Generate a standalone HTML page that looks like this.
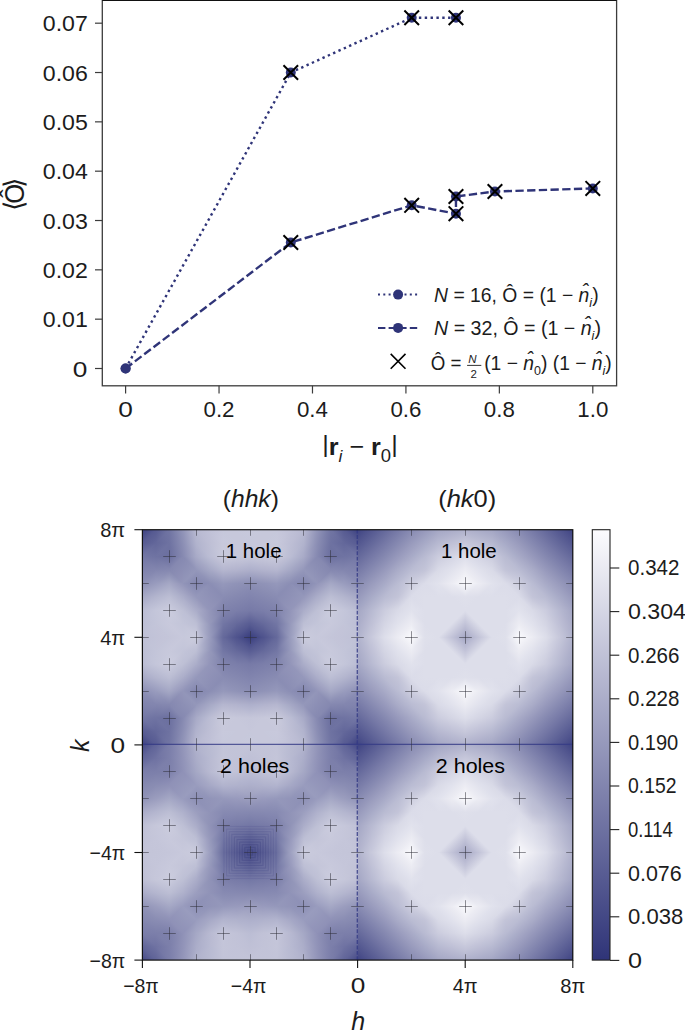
<!DOCTYPE html><html><head><meta charset="utf-8"><title>figure</title><style>html,body{margin:0;padding:0;background:#fff}svg{display:block}</style></head><body><svg width="685" height="1030" viewBox="0 0 685 1030" font-family='"Liberation Sans", sans-serif'><rect x="102.3" y="0.2" width="514.3000000000001" height="385.6" fill="none" stroke="#3c3c3c" stroke-width="1.3"/>
<line x1="102.3" y1="0.5" x2="616.6" y2="0.5" stroke="#111" stroke-width="1.2"/>
<line x1="95.0" y1="368.50" x2="102.3" y2="368.50" stroke="#3c3c3c" stroke-width="1.2"/>
<text x="87.40" y="376.60" font-size="22.3" text-anchor="end" fill="#1c1c1c" textLength="14.60" lengthAdjust="spacingAndGlyphs" >0</text>
<line x1="95.0" y1="319.17" x2="102.3" y2="319.17" stroke="#3c3c3c" stroke-width="1.2"/>
<text x="87.80" y="327.27" font-size="21.6" text-anchor="end" fill="#1c1c1c" textLength="45.00" lengthAdjust="spacingAndGlyphs" >0.01</text>
<line x1="95.0" y1="269.84" x2="102.3" y2="269.84" stroke="#3c3c3c" stroke-width="1.2"/>
<text x="87.80" y="277.94" font-size="21.6" text-anchor="end" fill="#1c1c1c" textLength="45.00" lengthAdjust="spacingAndGlyphs" >0.02</text>
<line x1="95.0" y1="220.51" x2="102.3" y2="220.51" stroke="#3c3c3c" stroke-width="1.2"/>
<text x="87.80" y="228.61" font-size="21.6" text-anchor="end" fill="#1c1c1c" textLength="45.00" lengthAdjust="spacingAndGlyphs" >0.03</text>
<line x1="95.0" y1="171.18" x2="102.3" y2="171.18" stroke="#3c3c3c" stroke-width="1.2"/>
<text x="87.80" y="179.28" font-size="21.6" text-anchor="end" fill="#1c1c1c" textLength="45.00" lengthAdjust="spacingAndGlyphs" >0.04</text>
<line x1="95.0" y1="121.85" x2="102.3" y2="121.85" stroke="#3c3c3c" stroke-width="1.2"/>
<text x="87.80" y="129.95" font-size="21.6" text-anchor="end" fill="#1c1c1c" textLength="45.00" lengthAdjust="spacingAndGlyphs" >0.05</text>
<line x1="95.0" y1="72.52" x2="102.3" y2="72.52" stroke="#3c3c3c" stroke-width="1.2"/>
<text x="87.80" y="80.62" font-size="21.6" text-anchor="end" fill="#1c1c1c" textLength="45.00" lengthAdjust="spacingAndGlyphs" >0.06</text>
<line x1="95.0" y1="23.19" x2="102.3" y2="23.19" stroke="#3c3c3c" stroke-width="1.2"/>
<text x="87.80" y="31.29" font-size="21.6" text-anchor="end" fill="#1c1c1c" textLength="45.00" lengthAdjust="spacingAndGlyphs" >0.07</text>
<line x1="125.60" y1="385.8" x2="125.60" y2="393.5" stroke="#3c3c3c" stroke-width="1.2"/>
<text x="125.60" y="417.40" font-size="22.3" text-anchor="middle" fill="#1c1c1c" textLength="14.60" lengthAdjust="spacingAndGlyphs" >0</text>
<line x1="219.04" y1="385.8" x2="219.04" y2="393.5" stroke="#3c3c3c" stroke-width="1.2"/>
<text x="219.04" y="417.40" font-size="21.6" text-anchor="middle" fill="#1c1c1c" textLength="31.00" lengthAdjust="spacingAndGlyphs" >0.2</text>
<line x1="312.48" y1="385.8" x2="312.48" y2="393.5" stroke="#3c3c3c" stroke-width="1.2"/>
<text x="312.48" y="417.40" font-size="21.6" text-anchor="middle" fill="#1c1c1c" textLength="31.00" lengthAdjust="spacingAndGlyphs" >0.4</text>
<line x1="405.92" y1="385.8" x2="405.92" y2="393.5" stroke="#3c3c3c" stroke-width="1.2"/>
<text x="405.92" y="417.40" font-size="21.6" text-anchor="middle" fill="#1c1c1c" textLength="31.00" lengthAdjust="spacingAndGlyphs" >0.6</text>
<line x1="499.36" y1="385.8" x2="499.36" y2="393.5" stroke="#3c3c3c" stroke-width="1.2"/>
<text x="499.36" y="417.40" font-size="21.6" text-anchor="middle" fill="#1c1c1c" textLength="31.00" lengthAdjust="spacingAndGlyphs" >0.8</text>
<line x1="592.80" y1="385.8" x2="592.80" y2="393.5" stroke="#3c3c3c" stroke-width="1.2"/>
<text x="592.80" y="417.40" font-size="21.6" text-anchor="middle" fill="#1c1c1c" textLength="31.00" lengthAdjust="spacingAndGlyphs" >1.0</text>
<polyline points="125.60,368.50 290.78,72.52 411.70,17.76 455.96,17.76" fill="none" stroke="#2f3478" stroke-width="2.4" stroke-dasharray="2.4 3.44"/>
<polyline points="125.60,368.50 290.78,242.51 411.70,205.32 455.96,213.70 455.96,196.49 494.95,191.50 592.80,188.45" fill="none" stroke="#2f3478" stroke-width="2.4" stroke-dasharray="8.3 3.4"/>
<circle cx="125.60" cy="368.50" r="5" fill="#2f3478"/>
<circle cx="290.78" cy="72.52" r="5" fill="#2f3478"/>
<circle cx="411.70" cy="17.76" r="5" fill="#2f3478"/>
<circle cx="455.96" cy="17.76" r="5" fill="#2f3478"/>
<circle cx="125.60" cy="368.50" r="5" fill="#2f3478"/>
<circle cx="290.78" cy="242.51" r="5" fill="#2f3478"/>
<circle cx="411.70" cy="205.32" r="5" fill="#2f3478"/>
<circle cx="455.96" cy="213.70" r="5" fill="#2f3478"/>
<circle cx="455.96" cy="196.49" r="5" fill="#2f3478"/>
<circle cx="494.95" cy="191.50" r="5" fill="#2f3478"/>
<circle cx="592.80" cy="188.45" r="5" fill="#2f3478"/>
<path d="M283.48 65.22L298.08 79.82M283.48 79.82L298.08 65.22" stroke="#000" stroke-width="2.0" fill="none"/>
<path d="M404.40 10.46L419.00 25.06M404.40 25.06L419.00 10.46" stroke="#000" stroke-width="2.0" fill="none"/>
<path d="M448.66 10.46L463.26 25.06M448.66 25.06L463.26 10.46" stroke="#000" stroke-width="2.0" fill="none"/>
<path d="M283.48 235.21L298.08 249.81M283.48 249.81L298.08 235.21" stroke="#000" stroke-width="2.0" fill="none"/>
<path d="M404.40 198.02L419.00 212.62M404.40 212.62L419.00 198.02" stroke="#000" stroke-width="2.0" fill="none"/>
<path d="M448.66 206.40L463.26 221.00M448.66 221.00L463.26 206.40" stroke="#000" stroke-width="2.0" fill="none"/>
<path d="M448.66 189.19L463.26 203.79M448.66 203.79L463.26 189.19" stroke="#000" stroke-width="2.0" fill="none"/>
<path d="M487.65 184.20L502.25 198.80M487.65 198.80L502.25 184.20" stroke="#000" stroke-width="2.0" fill="none"/>
<path d="M585.50 181.15L600.10 195.75M585.50 195.75L600.10 181.15" stroke="#000" stroke-width="2.0" fill="none"/>
<g transform="translate(24.0,193.7) rotate(-90)">
<text x="0.00" y="0.00" font-size="27.5" text-anchor="middle" fill="#1c1c1c" textLength="20.00" lengthAdjust="spacingAndGlyphs" >Ô</text>
<text x="-11.60" y="-1.20" font-size="27" text-anchor="middle" fill="#1c1c1c" >⟨</text>
<text x="11.60" y="-1.20" font-size="27" text-anchor="middle" fill="#1c1c1c" >⟩</text>
</g>
<text x="322.2" y="451.7" font-size="24.5" fill="#1c1c1c" textLength="75.5" lengthAdjust="spacingAndGlyphs">|<tspan font-weight="bold" dy="2.8">r</tspan><tspan font-style="italic" font-size="17" dy="7">i</tspan><tspan dy="-7"> − </tspan><tspan font-weight="bold">r</tspan><tspan font-size="18" dy="7.5">0</tspan><tspan dy="-10.3">|</tspan></text>
<line x1="378" y1="294.6" x2="418.4" y2="294.6" stroke="#2f3478" stroke-width="2" stroke-dasharray="2 3.3"/>
<circle cx="398.1" cy="294.6" r="5" fill="#2f3478"/>
<line x1="378" y1="327.9" x2="418.4" y2="327.9" stroke="#2f3478" stroke-width="2" stroke-dasharray="7.4 3.2"/>
<circle cx="398.1" cy="327.9" r="5" fill="#2f3478"/>
<path d="M390.70 353.90L405.50 368.70M390.70 368.70L405.50 353.90" stroke="#000" stroke-width="1.6" fill="none"/>
<text x="434.1" y="301.6" font-size="20" fill="#1c1c1c" textLength="164.5" lengthAdjust="spacingAndGlyphs"><tspan font-style="italic">N</tspan> = 16, Ô = (1 − <tspan font-style="italic">n̂</tspan><tspan font-style="italic" font-size="13" dy="5">i</tspan><tspan dy="-5">)</tspan></text>
<text x="434.1" y="334.8" font-size="20" fill="#1c1c1c" textLength="166.9" lengthAdjust="spacingAndGlyphs"><tspan font-style="italic">N</tspan> = 32, Ô = (1 − <tspan font-style="italic">n̂</tspan><tspan font-style="italic" font-size="13" dy="5">i</tspan><tspan dy="-5">)</tspan></text>
<text x="430.8" y="369.6" font-size="20" fill="#1c1c1c" textLength="30.7" lengthAdjust="spacingAndGlyphs">Ô =</text>
<text x="472.3" y="362.5" font-size="11.5" font-style="italic" text-anchor="middle" fill="#1c1c1c">N</text>
<line x1="467.1" y1="365.4" x2="481.3" y2="365.4" stroke="#1c1c1c" stroke-width="0.9"/>
<text x="473.7" y="377.7" font-size="11.5" text-anchor="middle" fill="#1c1c1c">2</text>
<text x="484.2" y="369.6" font-size="20" fill="#1c1c1c" textLength="127.6" lengthAdjust="spacingAndGlyphs">(1 − <tspan font-style="italic">n̂</tspan><tspan font-size="13" dy="5">0</tspan><tspan dy="-5">) (1 − </tspan><tspan font-style="italic">n̂</tspan><tspan font-style="italic" font-size="13" dy="5">i</tspan><tspan dy="-5">)</tspan></text>
<defs><linearGradient id="g1" gradientUnits="userSpaceOnUse" x1="0.0" y1="0.0" x2="6.3" y2="8.9"><stop offset="0" stop-color="#393e7f"/><stop offset="1" stop-color="#585c93"/></linearGradient><linearGradient id="g2" gradientUnits="userSpaceOnUse" x1="13.4" y1="0.0" x2="19.3" y2="10.0"><stop offset="0" stop-color="#4f538d"/><stop offset="1" stop-color="#65699b"/></linearGradient><linearGradient id="g3" gradientUnits="userSpaceOnUse" x1="13.4" y1="0.0" x2="20.2" y2="6.7"><stop offset="0" stop-color="#4f538d"/><stop offset="1" stop-color="#65699b"/></linearGradient><linearGradient id="g4" gradientUnits="userSpaceOnUse" x1="26.9" y1="0.0" x2="33.6" y2="6.7"><stop offset="0" stop-color="#65699b"/><stop offset="1" stop-color="#7276a4"/></linearGradient><linearGradient id="g5" gradientUnits="userSpaceOnUse" x1="26.9" y1="0.0" x2="39.6" y2="3.2"><stop offset="0" stop-color="#65699b"/><stop offset="1" stop-color="#999cbe"/></linearGradient><linearGradient id="g6" gradientUnits="userSpaceOnUse" x1="26.9" y1="13.4" x2="41.5" y2="12.1"><stop offset="0" stop-color="#7276a4"/><stop offset="1" stop-color="#999cbe"/></linearGradient><linearGradient id="g7" gradientUnits="userSpaceOnUse" x1="40.3" y1="0.0" x2="52.9" y2="-3.3"><stop offset="0" stop-color="#999cbe"/><stop offset="1" stop-color="#cacbdd"/></linearGradient><linearGradient id="g8" gradientUnits="userSpaceOnUse" x1="40.3" y1="13.4" x2="53.7" y2="12.3"><stop offset="0" stop-color="#9699bb"/><stop offset="1" stop-color="#bdbfd5"/></linearGradient><linearGradient id="g9" gradientUnits="userSpaceOnUse" x1="67.2" y1="13.4" x2="55.1" y2="-1.1"><stop offset="0" stop-color="#c3c5d9"/><stop offset="1" stop-color="#cacbdd"/></linearGradient><linearGradient id="g10" gradientUnits="userSpaceOnUse" x1="53.8" y1="13.4" x2="59.0" y2="2.5"><stop offset="0" stop-color="#bdbfd5"/><stop offset="1" stop-color="#cacbdd"/></linearGradient><linearGradient id="g11" gradientUnits="userSpaceOnUse" x1="80.7" y1="0.0" x2="74.1" y2="7.9"><stop offset="0" stop-color="#c4c5d9"/><stop offset="1" stop-color="#c8c9dc"/></linearGradient><linearGradient id="g12" gradientUnits="userSpaceOnUse" x1="67.2" y1="13.4" x2="75.0" y2="6.8"><stop offset="0" stop-color="#c3c5d9"/><stop offset="1" stop-color="#c8c9dc"/></linearGradient><linearGradient id="g13" gradientUnits="userSpaceOnUse" x1="94.1" y1="0.0" x2="85.2" y2="6.4"><stop offset="0" stop-color="#c2c3d8"/><stop offset="1" stop-color="#c4c5d9"/></linearGradient><linearGradient id="g14" gradientUnits="userSpaceOnUse" x1="94.1" y1="13.4" x2="86.4" y2="20.1"><stop offset="0" stop-color="#c3c5d9"/><stop offset="1" stop-color="#c8c9dc"/></linearGradient><linearGradient id="g15" gradientUnits="userSpaceOnUse" x1="107.6" y1="0.0" x2="91.6" y2="8.9"><stop offset="0" stop-color="#bfc0d6"/><stop offset="1" stop-color="#c3c5d9"/></linearGradient><linearGradient id="g16" gradientUnits="userSpaceOnUse" x1="107.6" y1="13.4" x2="95.3" y2="9.7"><stop offset="0" stop-color="#bdbfd5"/><stop offset="1" stop-color="#c3c5d9"/></linearGradient><linearGradient id="g17" gradientUnits="userSpaceOnUse" x1="0.0" y1="13.4" x2="4.8" y2="24.9"><stop offset="0" stop-color="#585c93"/><stop offset="1" stop-color="#777aa7"/></linearGradient><linearGradient id="g18" gradientUnits="userSpaceOnUse" x1="13.4" y1="13.4" x2="15.8" y2="26.5"><stop offset="0" stop-color="#65699b"/><stop offset="1" stop-color="#7b7eaa"/></linearGradient><linearGradient id="g19" gradientUnits="userSpaceOnUse" x1="13.4" y1="13.4" x2="19.3" y2="23.4"><stop offset="0" stop-color="#65699b"/><stop offset="1" stop-color="#7b7eaa"/></linearGradient><linearGradient id="g20" gradientUnits="userSpaceOnUse" x1="26.9" y1="13.4" x2="30.7" y2="25.7"><stop offset="0" stop-color="#7276a4"/><stop offset="1" stop-color="#7f82ac"/></linearGradient><linearGradient id="g21" gradientUnits="userSpaceOnUse" x1="26.9" y1="13.4" x2="38.8" y2="17.8"><stop offset="0" stop-color="#7276a4"/><stop offset="1" stop-color="#9699bb"/></linearGradient><linearGradient id="g22" gradientUnits="userSpaceOnUse" x1="26.9" y1="26.9" x2="42.2" y2="24.3"><stop offset="0" stop-color="#7f82ac"/><stop offset="1" stop-color="#9699bb"/></linearGradient><linearGradient id="g23" gradientUnits="userSpaceOnUse" x1="40.3" y1="13.4" x2="51.4" y2="8.3"><stop offset="0" stop-color="#9699bb"/><stop offset="1" stop-color="#bdbfd5"/></linearGradient><linearGradient id="g24" gradientUnits="userSpaceOnUse" x1="40.3" y1="26.9" x2="53.5" y2="25.1"><stop offset="0" stop-color="#9395b9"/><stop offset="1" stop-color="#abadc9"/></linearGradient><linearGradient id="g25" gradientUnits="userSpaceOnUse" x1="53.8" y1="13.4" x2="61.6" y2="6.8"><stop offset="0" stop-color="#bdbfd5"/><stop offset="1" stop-color="#c3c5d9"/></linearGradient><linearGradient id="g26" gradientUnits="userSpaceOnUse" x1="53.8" y1="26.9" x2="60.9" y2="20.2"><stop offset="0" stop-color="#abadc9"/><stop offset="1" stop-color="#bec0d5"/></linearGradient><linearGradient id="g27" gradientUnits="userSpaceOnUse" x1="67.2" y1="13.4" x2="81.6" y2="25.8"><stop offset="0" stop-color="#c3c5d9"/><stop offset="1" stop-color="#cbccde"/></linearGradient><linearGradient id="g28" gradientUnits="userSpaceOnUse" x1="67.2" y1="26.9" x2="78.9" y2="22.3"><stop offset="0" stop-color="#bec0d5"/><stop offset="1" stop-color="#cbccde"/></linearGradient><linearGradient id="g29" gradientUnits="userSpaceOnUse" x1="94.1" y1="13.4" x2="81.7" y2="17.0"><stop offset="0" stop-color="#c3c5d9"/><stop offset="1" stop-color="#c8c9dc"/></linearGradient><linearGradient id="g30" gradientUnits="userSpaceOnUse" x1="94.1" y1="26.9" x2="83.8" y2="32.6"><stop offset="0" stop-color="#c4c6da"/><stop offset="1" stop-color="#cbccde"/></linearGradient><linearGradient id="g31" gradientUnits="userSpaceOnUse" x1="107.6" y1="13.4" x2="92.1" y2="16.6"><stop offset="0" stop-color="#bdbfd5"/><stop offset="1" stop-color="#c4c6da"/></linearGradient><linearGradient id="g32" gradientUnits="userSpaceOnUse" x1="107.6" y1="26.9" x2="94.7" y2="24.3"><stop offset="0" stop-color="#bbbdd4"/><stop offset="1" stop-color="#c4c6da"/></linearGradient><linearGradient id="g33" gradientUnits="userSpaceOnUse" x1="0.0" y1="26.9" x2="4.6" y2="38.5"><stop offset="0" stop-color="#777aa7"/><stop offset="1" stop-color="#8184ae"/></linearGradient><linearGradient id="g34" gradientUnits="userSpaceOnUse" x1="13.4" y1="26.9" x2="18.1" y2="38.5"><stop offset="0" stop-color="#7b7eaa"/><stop offset="1" stop-color="#8588b0"/></linearGradient><linearGradient id="g35" gradientUnits="userSpaceOnUse" x1="13.4" y1="26.9" x2="18.1" y2="38.5"><stop offset="0" stop-color="#7b7eaa"/><stop offset="1" stop-color="#8588b0"/></linearGradient><linearGradient id="g36" gradientUnits="userSpaceOnUse" x1="26.9" y1="26.9" x2="31.5" y2="38.5"><stop offset="0" stop-color="#7f82ac"/><stop offset="1" stop-color="#898cb3"/></linearGradient><linearGradient id="g37" gradientUnits="userSpaceOnUse" x1="26.9" y1="26.9" x2="37.5" y2="32.4"><stop offset="0" stop-color="#7f82ac"/><stop offset="1" stop-color="#9395b9"/></linearGradient><linearGradient id="g38" gradientUnits="userSpaceOnUse" x1="26.9" y1="40.3" x2="42.0" y2="29.0"><stop offset="0" stop-color="#898cb3"/><stop offset="1" stop-color="#9395b9"/></linearGradient><linearGradient id="g39" gradientUnits="userSpaceOnUse" x1="40.3" y1="26.9" x2="47.9" y2="20.2"><stop offset="0" stop-color="#9395b9"/><stop offset="1" stop-color="#abadc9"/></linearGradient><linearGradient id="g40" gradientUnits="userSpaceOnUse" x1="40.3" y1="40.3" x2="50.2" y2="34.4"><stop offset="0" stop-color="#8f91b7"/><stop offset="1" stop-color="#9598bb"/></linearGradient><linearGradient id="g41" gradientUnits="userSpaceOnUse" x1="53.8" y1="26.9" x2="60.8" y2="20.2"><stop offset="0" stop-color="#abadc9"/><stop offset="1" stop-color="#bec0d5"/></linearGradient><linearGradient id="g42" gradientUnits="userSpaceOnUse" x1="53.8" y1="40.3" x2="60.7" y2="33.6"><stop offset="0" stop-color="#9598bb"/><stop offset="1" stop-color="#abadc9"/></linearGradient><linearGradient id="g43" gradientUnits="userSpaceOnUse" x1="80.7" y1="40.3" x2="87.4" y2="32.8"><stop offset="0" stop-color="#bcbed4"/><stop offset="1" stop-color="#cbccde"/></linearGradient><linearGradient id="g44" gradientUnits="userSpaceOnUse" x1="67.2" y1="40.3" x2="73.9" y2="32.9"><stop offset="0" stop-color="#abadc9"/><stop offset="1" stop-color="#bec0d5"/></linearGradient><linearGradient id="g45" gradientUnits="userSpaceOnUse" x1="80.7" y1="40.3" x2="75.7" y2="29.2"><stop offset="0" stop-color="#bcbed4"/><stop offset="1" stop-color="#cbccde"/></linearGradient><linearGradient id="g46" gradientUnits="userSpaceOnUse" x1="94.1" y1="40.3" x2="88.6" y2="29.8"><stop offset="0" stop-color="#b3b5ce"/><stop offset="1" stop-color="#c4c6da"/></linearGradient><linearGradient id="g47" gradientUnits="userSpaceOnUse" x1="94.1" y1="40.3" x2="88.6" y2="29.8"><stop offset="0" stop-color="#b3b5ce"/><stop offset="1" stop-color="#c4c6da"/></linearGradient><linearGradient id="g48" gradientUnits="userSpaceOnUse" x1="107.6" y1="40.3" x2="101.7" y2="30.4"><stop offset="0" stop-color="#a7a9c6"/><stop offset="1" stop-color="#bbbdd4"/></linearGradient><linearGradient id="g49" gradientUnits="userSpaceOnUse" x1="0.0" y1="40.3" x2="4.6" y2="51.9"><stop offset="0" stop-color="#8184ae"/><stop offset="1" stop-color="#8b8eb4"/></linearGradient><linearGradient id="g50" gradientUnits="userSpaceOnUse" x1="13.4" y1="40.3" x2="18.4" y2="51.6"><stop offset="0" stop-color="#8588b0"/><stop offset="1" stop-color="#9093b7"/></linearGradient><linearGradient id="g51" gradientUnits="userSpaceOnUse" x1="13.4" y1="40.3" x2="17.9" y2="52.1"><stop offset="0" stop-color="#8588b0"/><stop offset="1" stop-color="#9093b7"/></linearGradient><linearGradient id="g52" gradientUnits="userSpaceOnUse" x1="26.9" y1="40.3" x2="31.9" y2="51.6"><stop offset="0" stop-color="#898cb3"/><stop offset="1" stop-color="#9598bb"/></linearGradient><linearGradient id="g53" gradientUnits="userSpaceOnUse" x1="26.9" y1="40.3" x2="36.6" y2="34.3"><stop offset="0" stop-color="#898cb3"/><stop offset="1" stop-color="#8f91b7"/></linearGradient><linearGradient id="g54" gradientUnits="userSpaceOnUse" x1="26.9" y1="40.3" x2="20.3" y2="48.3"><stop offset="0" stop-color="#898cb3"/><stop offset="1" stop-color="#9598bb"/></linearGradient><linearGradient id="g55" gradientUnits="userSpaceOnUse" x1="40.3" y1="53.8" x2="56.5" y2="45.7"><stop offset="0" stop-color="#8b8eb4"/><stop offset="1" stop-color="#9598bb"/></linearGradient><linearGradient id="g56" gradientUnits="userSpaceOnUse" x1="53.8" y1="53.8" x2="48.8" y2="42.6"><stop offset="0" stop-color="#8386af"/><stop offset="1" stop-color="#9598bb"/></linearGradient><linearGradient id="g57" gradientUnits="userSpaceOnUse" x1="67.2" y1="53.8" x2="73.9" y2="46.3"><stop offset="0" stop-color="#9395b9"/><stop offset="1" stop-color="#abadc9"/></linearGradient><linearGradient id="g58" gradientUnits="userSpaceOnUse" x1="53.8" y1="53.8" x2="60.4" y2="46.0"><stop offset="0" stop-color="#8386af"/><stop offset="1" stop-color="#9598bb"/></linearGradient><linearGradient id="g59" gradientUnits="userSpaceOnUse" x1="80.7" y1="53.8" x2="87.1" y2="45.1"><stop offset="0" stop-color="#a5a8c5"/><stop offset="1" stop-color="#bcbed4"/></linearGradient><linearGradient id="g60" gradientUnits="userSpaceOnUse" x1="67.2" y1="53.8" x2="73.7" y2="45.2"><stop offset="0" stop-color="#9395b9"/><stop offset="1" stop-color="#abadc9"/></linearGradient><linearGradient id="g61" gradientUnits="userSpaceOnUse" x1="80.7" y1="53.8" x2="76.0" y2="42.3"><stop offset="0" stop-color="#a5a8c5"/><stop offset="1" stop-color="#bcbed4"/></linearGradient><linearGradient id="g62" gradientUnits="userSpaceOnUse" x1="94.1" y1="53.8" x2="89.0" y2="42.8"><stop offset="0" stop-color="#999cbe"/><stop offset="1" stop-color="#b3b5ce"/></linearGradient><linearGradient id="g63" gradientUnits="userSpaceOnUse" x1="94.1" y1="53.8" x2="88.9" y2="42.8"><stop offset="0" stop-color="#999cbe"/><stop offset="1" stop-color="#b3b5ce"/></linearGradient><linearGradient id="g64" gradientUnits="userSpaceOnUse" x1="107.6" y1="53.8" x2="102.4" y2="42.8"><stop offset="0" stop-color="#8d90b6"/><stop offset="1" stop-color="#a7a9c6"/></linearGradient><linearGradient id="g65" gradientUnits="userSpaceOnUse" x1="0.0" y1="53.8" x2="1.8" y2="67.0"><stop offset="0" stop-color="#8b8eb4"/><stop offset="1" stop-color="#adafcb"/></linearGradient><linearGradient id="g66" gradientUnits="userSpaceOnUse" x1="13.4" y1="53.8" x2="15.1" y2="67.1"><stop offset="0" stop-color="#9093b7"/><stop offset="1" stop-color="#b2b3cd"/></linearGradient><linearGradient id="g67" gradientUnits="userSpaceOnUse" x1="13.4" y1="53.8" x2="15.5" y2="66.9"><stop offset="0" stop-color="#9093b7"/><stop offset="1" stop-color="#b2b3cd"/></linearGradient><linearGradient id="g68" gradientUnits="userSpaceOnUse" x1="26.9" y1="53.8" x2="28.3" y2="67.1"><stop offset="0" stop-color="#9598bb"/><stop offset="1" stop-color="#b5b6cf"/></linearGradient><linearGradient id="g69" gradientUnits="userSpaceOnUse" x1="40.3" y1="53.8" x2="35.8" y2="65.5"><stop offset="0" stop-color="#8b8eb4"/><stop offset="1" stop-color="#a5a8c5"/></linearGradient><linearGradient id="g70" gradientUnits="userSpaceOnUse" x1="26.9" y1="53.8" x2="21.6" y2="64.7"><stop offset="0" stop-color="#9598bb"/><stop offset="1" stop-color="#b5b6cf"/></linearGradient><linearGradient id="g71" gradientUnits="userSpaceOnUse" x1="53.8" y1="53.8" x2="48.6" y2="64.7"><stop offset="0" stop-color="#8386af"/><stop offset="1" stop-color="#9497ba"/></linearGradient><linearGradient id="g72" gradientUnits="userSpaceOnUse" x1="40.3" y1="53.8" x2="34.1" y2="63.1"><stop offset="0" stop-color="#8b8eb4"/><stop offset="1" stop-color="#a5a8c5"/></linearGradient><linearGradient id="g73" gradientUnits="userSpaceOnUse" x1="53.8" y1="53.8" x2="60.5" y2="61.1"><stop offset="0" stop-color="#8386af"/><stop offset="1" stop-color="#9497ba"/></linearGradient><linearGradient id="g74" gradientUnits="userSpaceOnUse" x1="67.2" y1="67.2" x2="59.3" y2="60.6"><stop offset="0" stop-color="#8c8fb5"/><stop offset="1" stop-color="#9497ba"/></linearGradient><linearGradient id="g75" gradientUnits="userSpaceOnUse" x1="80.7" y1="67.2" x2="86.6" y2="57.2"><stop offset="0" stop-color="#8588b0"/><stop offset="1" stop-color="#a5a8c5"/></linearGradient><linearGradient id="g76" gradientUnits="userSpaceOnUse" x1="80.7" y1="67.2" x2="67.6" y2="53.5"><stop offset="0" stop-color="#8588b0"/><stop offset="1" stop-color="#9395b9"/></linearGradient><linearGradient id="g77" gradientUnits="userSpaceOnUse" x1="80.7" y1="67.2" x2="76.3" y2="55.5"><stop offset="0" stop-color="#8588b0"/><stop offset="1" stop-color="#a5a8c5"/></linearGradient><linearGradient id="g78" gradientUnits="userSpaceOnUse" x1="94.1" y1="67.2" x2="92.7" y2="54.0"><stop offset="0" stop-color="#8386af"/><stop offset="1" stop-color="#999cbe"/></linearGradient><linearGradient id="g79" gradientUnits="userSpaceOnUse" x1="94.1" y1="67.2" x2="88.6" y2="56.8"><stop offset="0" stop-color="#8386af"/><stop offset="1" stop-color="#999cbe"/></linearGradient><linearGradient id="g80" gradientUnits="userSpaceOnUse" x1="107.6" y1="67.2" x2="105.1" y2="54.3"><stop offset="0" stop-color="#8083ad"/><stop offset="1" stop-color="#8d90b6"/></linearGradient><linearGradient id="g81" gradientUnits="userSpaceOnUse" x1="0.0" y1="67.2" x2="2.3" y2="80.3"><stop offset="0" stop-color="#adafcb"/><stop offset="1" stop-color="#c5c6da"/></linearGradient><linearGradient id="g82" gradientUnits="userSpaceOnUse" x1="13.4" y1="67.2" x2="14.6" y2="80.6"><stop offset="0" stop-color="#b2b3cd"/><stop offset="1" stop-color="#c7c8db"/></linearGradient><linearGradient id="g83" gradientUnits="userSpaceOnUse" x1="13.4" y1="67.2" x2="15.4" y2="80.4"><stop offset="0" stop-color="#b2b3cd"/><stop offset="1" stop-color="#c7c8db"/></linearGradient><linearGradient id="g84" gradientUnits="userSpaceOnUse" x1="26.9" y1="67.2" x2="28.1" y2="80.6"><stop offset="0" stop-color="#b5b6cf"/><stop offset="1" stop-color="#c9cadc"/></linearGradient><linearGradient id="g85" gradientUnits="userSpaceOnUse" x1="40.3" y1="67.2" x2="34.0" y2="76.2"><stop offset="0" stop-color="#a5a8c5"/><stop offset="1" stop-color="#bbbdd4"/></linearGradient><linearGradient id="g86" gradientUnits="userSpaceOnUse" x1="26.9" y1="67.2" x2="20.7" y2="76.5"><stop offset="0" stop-color="#b5b6cf"/><stop offset="1" stop-color="#c9cadc"/></linearGradient><linearGradient id="g87" gradientUnits="userSpaceOnUse" x1="53.8" y1="67.2" x2="47.1" y2="74.9"><stop offset="0" stop-color="#9497ba"/><stop offset="1" stop-color="#a8aac7"/></linearGradient><linearGradient id="g88" gradientUnits="userSpaceOnUse" x1="40.3" y1="67.2" x2="33.7" y2="74.9"><stop offset="0" stop-color="#a5a8c5"/><stop offset="1" stop-color="#bbbdd4"/></linearGradient><linearGradient id="g89" gradientUnits="userSpaceOnUse" x1="67.2" y1="80.7" x2="51.8" y2="70.3"><stop offset="0" stop-color="#8689b1"/><stop offset="1" stop-color="#9497ba"/></linearGradient><linearGradient id="g90" gradientUnits="userSpaceOnUse" x1="67.2" y1="80.7" x2="57.3" y2="86.6"><stop offset="0" stop-color="#8689b1"/><stop offset="1" stop-color="#a8aac7"/></linearGradient><linearGradient id="g91" gradientUnits="userSpaceOnUse" x1="80.7" y1="67.2" x2="72.9" y2="60.6"><stop offset="0" stop-color="#8588b0"/><stop offset="1" stop-color="#8c8fb5"/></linearGradient><linearGradient id="g92" gradientUnits="userSpaceOnUse" x1="80.7" y1="80.7" x2="73.7" y2="74.0"><stop offset="0" stop-color="#6b6f9f"/><stop offset="1" stop-color="#8689b1"/></linearGradient><linearGradient id="g93" gradientUnits="userSpaceOnUse" x1="94.1" y1="80.7" x2="92.2" y2="65.8"><stop offset="0" stop-color="#6f73a2"/><stop offset="1" stop-color="#8588b0"/></linearGradient><linearGradient id="g94" gradientUnits="userSpaceOnUse" x1="80.7" y1="80.7" x2="82.7" y2="67.6"><stop offset="0" stop-color="#6b6f9f"/><stop offset="1" stop-color="#8588b0"/></linearGradient><linearGradient id="g95" gradientUnits="userSpaceOnUse" x1="107.6" y1="80.7" x2="104.6" y2="65.2"><stop offset="0" stop-color="#7377a5"/><stop offset="1" stop-color="#8386af"/></linearGradient><linearGradient id="g96" gradientUnits="userSpaceOnUse" x1="94.1" y1="80.7" x2="96.8" y2="67.8"><stop offset="0" stop-color="#6f73a2"/><stop offset="1" stop-color="#8386af"/></linearGradient><linearGradient id="g97" gradientUnits="userSpaceOnUse" x1="0.0" y1="80.7" x2="9.3" y2="86.9"><stop offset="0" stop-color="#c5c6da"/><stop offset="1" stop-color="#c7c8db"/></linearGradient><linearGradient id="g98" gradientUnits="userSpaceOnUse" x1="13.4" y1="80.7" x2="22.8" y2="74.5"><stop offset="0" stop-color="#c7c8db"/><stop offset="1" stop-color="#c9cadc"/></linearGradient><linearGradient id="g99" gradientUnits="userSpaceOnUse" x1="40.3" y1="80.7" x2="27.3" y2="82.9"><stop offset="0" stop-color="#bbbdd4"/><stop offset="1" stop-color="#c9cadc"/></linearGradient><linearGradient id="g100" gradientUnits="userSpaceOnUse" x1="40.3" y1="94.1" x2="25.5" y2="92.3"><stop offset="0" stop-color="#bebfd5"/><stop offset="1" stop-color="#c9cadc"/></linearGradient><linearGradient id="g101" gradientUnits="userSpaceOnUse" x1="53.8" y1="80.7" x2="42.8" y2="85.9"><stop offset="0" stop-color="#a8aac7"/><stop offset="1" stop-color="#bbbdd4"/></linearGradient><linearGradient id="g102" gradientUnits="userSpaceOnUse" x1="53.8" y1="94.1" x2="40.8" y2="96.6"><stop offset="0" stop-color="#b1b3cd"/><stop offset="1" stop-color="#bebfd5"/></linearGradient><linearGradient id="g103" gradientUnits="userSpaceOnUse" x1="67.2" y1="80.7" x2="54.1" y2="82.7"><stop offset="0" stop-color="#8689b1"/><stop offset="1" stop-color="#a8aac7"/></linearGradient><linearGradient id="g104" gradientUnits="userSpaceOnUse" x1="67.2" y1="94.1" x2="54.5" y2="97.2"><stop offset="0" stop-color="#8b8eb4"/><stop offset="1" stop-color="#b1b3cd"/></linearGradient><linearGradient id="g105" gradientUnits="userSpaceOnUse" x1="80.7" y1="80.7" x2="67.4" y2="82.2"><stop offset="0" stop-color="#6b6f9f"/><stop offset="1" stop-color="#8689b1"/></linearGradient><linearGradient id="g106" gradientUnits="userSpaceOnUse" x1="80.7" y1="94.1" x2="67.6" y2="96.4"><stop offset="0" stop-color="#6e72a1"/><stop offset="1" stop-color="#8b8eb4"/></linearGradient><linearGradient id="g107" gradientUnits="userSpaceOnUse" x1="80.7" y1="80.7" x2="89.3" y2="87.2"><stop offset="0" stop-color="#6b6f9f"/><stop offset="1" stop-color="#6f73a2"/></linearGradient><linearGradient id="g108" gradientUnits="userSpaceOnUse" x1="94.1" y1="94.1" x2="87.5" y2="86.8"><stop offset="0" stop-color="#63679a"/><stop offset="1" stop-color="#6f73a2"/></linearGradient><linearGradient id="g109" gradientUnits="userSpaceOnUse" x1="94.1" y1="94.1" x2="99.5" y2="78.0"><stop offset="0" stop-color="#63679a"/><stop offset="1" stop-color="#7377a5"/></linearGradient><linearGradient id="g110" gradientUnits="userSpaceOnUse" x1="107.6" y1="94.1" x2="102.9" y2="82.6"><stop offset="0" stop-color="#585c93"/><stop offset="1" stop-color="#7377a5"/></linearGradient><linearGradient id="g111" gradientUnits="userSpaceOnUse" x1="0.0" y1="94.1" x2="-5.4" y2="104.9"><stop offset="0" stop-color="#c6c8db"/><stop offset="1" stop-color="#c8c9dc"/></linearGradient><linearGradient id="g112" gradientUnits="userSpaceOnUse" x1="26.9" y1="107.6" x2="32.3" y2="96.8"><stop offset="0" stop-color="#c6c8db"/><stop offset="1" stop-color="#c8c9dc"/></linearGradient><linearGradient id="g113" gradientUnits="userSpaceOnUse" x1="40.3" y1="94.1" x2="27.6" y2="97.1"><stop offset="0" stop-color="#bebfd5"/><stop offset="1" stop-color="#c8c9dc"/></linearGradient><linearGradient id="g114" gradientUnits="userSpaceOnUse" x1="40.3" y1="107.6" x2="24.9" y2="104.7"><stop offset="0" stop-color="#c0c1d7"/><stop offset="1" stop-color="#c8c9dc"/></linearGradient><linearGradient id="g115" gradientUnits="userSpaceOnUse" x1="53.8" y1="94.1" x2="43.2" y2="99.6"><stop offset="0" stop-color="#b1b3cd"/><stop offset="1" stop-color="#bebfd5"/></linearGradient><linearGradient id="g116" gradientUnits="userSpaceOnUse" x1="53.8" y1="107.6" x2="41.3" y2="111.1"><stop offset="0" stop-color="#b8b9d1"/><stop offset="1" stop-color="#c0c1d7"/></linearGradient><linearGradient id="g117" gradientUnits="userSpaceOnUse" x1="67.2" y1="94.1" x2="54.1" y2="96.2"><stop offset="0" stop-color="#8b8eb4"/><stop offset="1" stop-color="#b1b3cd"/></linearGradient><linearGradient id="g118" gradientUnits="userSpaceOnUse" x1="67.2" y1="107.6" x2="54.2" y2="109.8"><stop offset="0" stop-color="#9194b8"/><stop offset="1" stop-color="#b8b9d1"/></linearGradient><linearGradient id="g119" gradientUnits="userSpaceOnUse" x1="80.7" y1="94.1" x2="67.4" y2="95.5"><stop offset="0" stop-color="#6e72a1"/><stop offset="1" stop-color="#8b8eb4"/></linearGradient><linearGradient id="g120" gradientUnits="userSpaceOnUse" x1="80.7" y1="107.6" x2="67.7" y2="110.0"><stop offset="0" stop-color="#7175a3"/><stop offset="1" stop-color="#9194b8"/></linearGradient><linearGradient id="g121" gradientUnits="userSpaceOnUse" x1="94.1" y1="94.1" x2="78.2" y2="98.5"><stop offset="0" stop-color="#63679a"/><stop offset="1" stop-color="#7175a3"/></linearGradient><linearGradient id="g122" gradientUnits="userSpaceOnUse" x1="94.1" y1="107.6" x2="83.1" y2="102.5"><stop offset="0" stop-color="#575b92"/><stop offset="1" stop-color="#7175a3"/></linearGradient><linearGradient id="g123" gradientUnits="userSpaceOnUse" x1="94.1" y1="107.6" x2="87.5" y2="100.3"><stop offset="0" stop-color="#575b92"/><stop offset="1" stop-color="#63679a"/></linearGradient><linearGradient id="g124" gradientUnits="userSpaceOnUse" x1="107.6" y1="107.6" x2="100.9" y2="100.6"><stop offset="0" stop-color="#3d4281"/><stop offset="1" stop-color="#585c93"/></linearGradient><linearGradient id="g125" gradientUnits="userSpaceOnUse" x1="0.0" y1="0.0" x2="6.6" y2="8.1"><stop offset="0" stop-color="#474b88"/><stop offset="1" stop-color="#5d6196"/></linearGradient><linearGradient id="g126" gradientUnits="userSpaceOnUse" x1="13.4" y1="0.0" x2="19.9" y2="8.7"><stop offset="0" stop-color="#595d94"/><stop offset="1" stop-color="#686c9d"/></linearGradient><linearGradient id="g127" gradientUnits="userSpaceOnUse" x1="13.4" y1="0.0" x2="21.4" y2="6.6"><stop offset="0" stop-color="#595d94"/><stop offset="1" stop-color="#6b6f9f"/></linearGradient><linearGradient id="g128" gradientUnits="userSpaceOnUse" x1="13.4" y1="13.4" x2="22.2" y2="19.8"><stop offset="0" stop-color="#686c9d"/><stop offset="1" stop-color="#7377a5"/></linearGradient><linearGradient id="g129" gradientUnits="userSpaceOnUse" x1="26.9" y1="0.0" x2="40.0" y2="2.1"><stop offset="0" stop-color="#6b6f9f"/><stop offset="1" stop-color="#9da0c0"/></linearGradient><linearGradient id="g130" gradientUnits="userSpaceOnUse" x1="26.9" y1="13.4" x2="42.3" y2="10.5"><stop offset="0" stop-color="#7377a5"/><stop offset="1" stop-color="#9da0c0"/></linearGradient><linearGradient id="g131" gradientUnits="userSpaceOnUse" x1="40.3" y1="0.0" x2="52.8" y2="-3.6"><stop offset="0" stop-color="#9da0c0"/><stop offset="1" stop-color="#cacbdd"/></linearGradient><linearGradient id="g132" gradientUnits="userSpaceOnUse" x1="40.3" y1="13.4" x2="53.4" y2="11.2"><stop offset="0" stop-color="#9799bc"/><stop offset="1" stop-color="#bdbfd5"/></linearGradient><linearGradient id="g133" gradientUnits="userSpaceOnUse" x1="67.2" y1="13.4" x2="57.6" y2="-2.3"><stop offset="0" stop-color="#c4c5d9"/><stop offset="1" stop-color="#cacbdd"/></linearGradient><linearGradient id="g134" gradientUnits="userSpaceOnUse" x1="53.8" y1="13.4" x2="59.2" y2="2.7"><stop offset="0" stop-color="#bdbfd5"/><stop offset="1" stop-color="#cacbdd"/></linearGradient><linearGradient id="g135" gradientUnits="userSpaceOnUse" x1="80.7" y1="0.0" x2="74.1" y2="8.2"><stop offset="0" stop-color="#c5c6da"/><stop offset="1" stop-color="#c8c9dc"/></linearGradient><linearGradient id="g136" gradientUnits="userSpaceOnUse" x1="67.2" y1="13.4" x2="74.9" y2="6.8"><stop offset="0" stop-color="#c4c5d9"/><stop offset="1" stop-color="#c8c9dc"/></linearGradient><linearGradient id="g137" gradientUnits="userSpaceOnUse" x1="94.1" y1="0.0" x2="85.5" y2="6.5"><stop offset="0" stop-color="#c4c5d9"/><stop offset="1" stop-color="#c5c6da"/></linearGradient><linearGradient id="g138" gradientUnits="userSpaceOnUse" x1="94.1" y1="13.4" x2="86.8" y2="20.1"><stop offset="0" stop-color="#c5c6da"/><stop offset="1" stop-color="#c8c9dc"/></linearGradient><linearGradient id="g139" gradientUnits="userSpaceOnUse" x1="107.6" y1="0.0" x2="92.5" y2="11.3"><stop offset="0" stop-color="#c3c4d8"/><stop offset="1" stop-color="#c5c6da"/></linearGradient><linearGradient id="g140" gradientUnits="userSpaceOnUse" x1="107.6" y1="13.4" x2="96.5" y2="8.3"><stop offset="0" stop-color="#c1c2d7"/><stop offset="1" stop-color="#c5c6da"/></linearGradient><linearGradient id="g141" gradientUnits="userSpaceOnUse" x1="0.0" y1="13.4" x2="5.4" y2="24.2"><stop offset="0" stop-color="#5d6196"/><stop offset="1" stop-color="#7377a5"/></linearGradient><linearGradient id="g142" gradientUnits="userSpaceOnUse" x1="13.4" y1="13.4" x2="16.8" y2="26.0"><stop offset="0" stop-color="#686c9d"/><stop offset="1" stop-color="#777aa7"/></linearGradient><linearGradient id="g143" gradientUnits="userSpaceOnUse" x1="13.4" y1="13.4" x2="19.9" y2="22.2"><stop offset="0" stop-color="#686c9d"/><stop offset="1" stop-color="#777aa7"/></linearGradient><linearGradient id="g144" gradientUnits="userSpaceOnUse" x1="26.9" y1="13.4" x2="32.3" y2="24.2"><stop offset="0" stop-color="#7377a5"/><stop offset="1" stop-color="#7b7eaa"/></linearGradient><linearGradient id="g145" gradientUnits="userSpaceOnUse" x1="26.9" y1="13.4" x2="39.7" y2="16.3"><stop offset="0" stop-color="#7377a5"/><stop offset="1" stop-color="#9799bc"/></linearGradient><linearGradient id="g146" gradientUnits="userSpaceOnUse" x1="26.9" y1="26.9" x2="43.0" y2="21.7"><stop offset="0" stop-color="#7b7eaa"/><stop offset="1" stop-color="#9799bc"/></linearGradient><linearGradient id="g147" gradientUnits="userSpaceOnUse" x1="40.3" y1="13.4" x2="51.3" y2="8.2"><stop offset="0" stop-color="#9799bc"/><stop offset="1" stop-color="#bdbfd5"/></linearGradient><linearGradient id="g148" gradientUnits="userSpaceOnUse" x1="40.3" y1="26.9" x2="53.0" y2="23.7"><stop offset="0" stop-color="#9093b7"/><stop offset="1" stop-color="#abadc9"/></linearGradient><linearGradient id="g149" gradientUnits="userSpaceOnUse" x1="53.8" y1="13.4" x2="61.6" y2="6.8"><stop offset="0" stop-color="#bdbfd5"/><stop offset="1" stop-color="#c4c5d9"/></linearGradient><linearGradient id="g150" gradientUnits="userSpaceOnUse" x1="53.8" y1="26.9" x2="60.9" y2="20.2"><stop offset="0" stop-color="#abadc9"/><stop offset="1" stop-color="#bec0d5"/></linearGradient><linearGradient id="g151" gradientUnits="userSpaceOnUse" x1="67.2" y1="13.4" x2="82.8" y2="23.8"><stop offset="0" stop-color="#c4c5d9"/><stop offset="1" stop-color="#cbccde"/></linearGradient><linearGradient id="g152" gradientUnits="userSpaceOnUse" x1="67.2" y1="26.9" x2="78.7" y2="22.1"><stop offset="0" stop-color="#bec0d5"/><stop offset="1" stop-color="#cbccde"/></linearGradient><linearGradient id="g153" gradientUnits="userSpaceOnUse" x1="94.1" y1="13.4" x2="81.6" y2="16.9"><stop offset="0" stop-color="#c5c6da"/><stop offset="1" stop-color="#c8c9dc"/></linearGradient><linearGradient id="g154" gradientUnits="userSpaceOnUse" x1="94.1" y1="26.9" x2="83.9" y2="32.6"><stop offset="0" stop-color="#c6c7da"/><stop offset="1" stop-color="#cbccde"/></linearGradient><linearGradient id="g155" gradientUnits="userSpaceOnUse" x1="107.6" y1="13.4" x2="91.9" y2="17.1"><stop offset="0" stop-color="#c1c2d7"/><stop offset="1" stop-color="#c6c7da"/></linearGradient><linearGradient id="g156" gradientUnits="userSpaceOnUse" x1="107.6" y1="26.9" x2="95.1" y2="23.5"><stop offset="0" stop-color="#bfc0d6"/><stop offset="1" stop-color="#c6c7da"/></linearGradient><linearGradient id="g157" gradientUnits="userSpaceOnUse" x1="0.0" y1="26.9" x2="2.8" y2="39.7"><stop offset="0" stop-color="#7377a5"/><stop offset="1" stop-color="#8588b0"/></linearGradient><linearGradient id="g158" gradientUnits="userSpaceOnUse" x1="13.4" y1="26.9" x2="14.3" y2="40.3"><stop offset="0" stop-color="#777aa7"/><stop offset="1" stop-color="#8689b1"/></linearGradient><linearGradient id="g159" gradientUnits="userSpaceOnUse" x1="13.4" y1="26.9" x2="16.8" y2="39.5"><stop offset="0" stop-color="#777aa7"/><stop offset="1" stop-color="#8689b1"/></linearGradient><linearGradient id="g160" gradientUnits="userSpaceOnUse" x1="26.9" y1="26.9" x2="28.0" y2="40.3"><stop offset="0" stop-color="#7b7eaa"/><stop offset="1" stop-color="#878ab2"/></linearGradient><linearGradient id="g161" gradientUnits="userSpaceOnUse" x1="26.9" y1="26.9" x2="37.0" y2="32.7"><stop offset="0" stop-color="#7b7eaa"/><stop offset="1" stop-color="#9093b7"/></linearGradient><linearGradient id="g162" gradientUnits="userSpaceOnUse" x1="26.9" y1="40.3" x2="40.3" y2="41.3"><stop offset="0" stop-color="#878ab2"/><stop offset="1" stop-color="#9193b8"/></linearGradient><linearGradient id="g163" gradientUnits="userSpaceOnUse" x1="40.3" y1="26.9" x2="50.7" y2="21.2"><stop offset="0" stop-color="#9093b7"/><stop offset="1" stop-color="#abadc9"/></linearGradient><linearGradient id="g164" gradientUnits="userSpaceOnUse" x1="40.3" y1="26.9" x2="54.5" y2="27.7"><stop offset="0" stop-color="#9093b7"/><stop offset="1" stop-color="#9c9ebf"/></linearGradient><linearGradient id="g165" gradientUnits="userSpaceOnUse" x1="53.8" y1="26.9" x2="62.1" y2="20.4"><stop offset="0" stop-color="#abadc9"/><stop offset="1" stop-color="#bec0d5"/></linearGradient><linearGradient id="g166" gradientUnits="userSpaceOnUse" x1="53.8" y1="40.3" x2="62.1" y2="33.8"><stop offset="0" stop-color="#9c9ebf"/><stop offset="1" stop-color="#afb1cc"/></linearGradient><linearGradient id="g167" gradientUnits="userSpaceOnUse" x1="80.7" y1="40.3" x2="87.4" y2="32.8"><stop offset="0" stop-color="#bcbed4"/><stop offset="1" stop-color="#cbccde"/></linearGradient><linearGradient id="g168" gradientUnits="userSpaceOnUse" x1="67.2" y1="40.3" x2="73.9" y2="32.8"><stop offset="0" stop-color="#afb1cc"/><stop offset="1" stop-color="#bec0d5"/></linearGradient><linearGradient id="g169" gradientUnits="userSpaceOnUse" x1="80.7" y1="40.3" x2="76.3" y2="28.5"><stop offset="0" stop-color="#bcbed4"/><stop offset="1" stop-color="#cbccde"/></linearGradient><linearGradient id="g170" gradientUnits="userSpaceOnUse" x1="94.1" y1="40.3" x2="89.1" y2="29.2"><stop offset="0" stop-color="#b4b6cf"/><stop offset="1" stop-color="#c6c7da"/></linearGradient><linearGradient id="g171" gradientUnits="userSpaceOnUse" x1="94.1" y1="40.3" x2="89.6" y2="28.7"><stop offset="0" stop-color="#b4b6cf"/><stop offset="1" stop-color="#c6c7da"/></linearGradient><linearGradient id="g172" gradientUnits="userSpaceOnUse" x1="107.6" y1="40.3" x2="102.4" y2="29.4"><stop offset="0" stop-color="#abadc9"/><stop offset="1" stop-color="#bfc0d6"/></linearGradient><linearGradient id="g173" gradientUnits="userSpaceOnUse" x1="0.0" y1="40.3" x2="0.8" y2="54.5"><stop offset="0" stop-color="#8588b0"/><stop offset="1" stop-color="#989abd"/></linearGradient><linearGradient id="g174" gradientUnits="userSpaceOnUse" x1="0.0" y1="40.3" x2="-1.7" y2="53.6"><stop offset="0" stop-color="#8588b0"/><stop offset="1" stop-color="#9b9dbe"/></linearGradient><linearGradient id="g175" gradientUnits="userSpaceOnUse" x1="13.4" y1="40.3" x2="14.5" y2="54.7"><stop offset="0" stop-color="#8689b1"/><stop offset="1" stop-color="#9598bb"/></linearGradient><linearGradient id="g176" gradientUnits="userSpaceOnUse" x1="13.4" y1="40.3" x2="11.5" y2="53.5"><stop offset="0" stop-color="#8689b1"/><stop offset="1" stop-color="#989abd"/></linearGradient><linearGradient id="g177" gradientUnits="userSpaceOnUse" x1="26.9" y1="40.3" x2="33.1" y2="49.7"><stop offset="0" stop-color="#878ab2"/><stop offset="1" stop-color="#9598bb"/></linearGradient><linearGradient id="g178" gradientUnits="userSpaceOnUse" x1="40.3" y1="40.3" x2="25.1" y2="42.9"><stop offset="0" stop-color="#9193b8"/><stop offset="1" stop-color="#9598bb"/></linearGradient><linearGradient id="g179" gradientUnits="userSpaceOnUse" x1="53.8" y1="53.8" x2="60.3" y2="45.4"><stop offset="0" stop-color="#8d90b6"/><stop offset="1" stop-color="#9c9ebf"/></linearGradient><linearGradient id="g180" gradientUnits="userSpaceOnUse" x1="53.8" y1="53.8" x2="40.7" y2="56.0"><stop offset="0" stop-color="#8d90b6"/><stop offset="1" stop-color="#9194b8"/></linearGradient><linearGradient id="g181" gradientUnits="userSpaceOnUse" x1="67.2" y1="53.8" x2="73.9" y2="46.2"><stop offset="0" stop-color="#999cbe"/><stop offset="1" stop-color="#afb1cc"/></linearGradient><linearGradient id="g182" gradientUnits="userSpaceOnUse" x1="53.8" y1="53.8" x2="60.4" y2="45.7"><stop offset="0" stop-color="#8d90b6"/><stop offset="1" stop-color="#9c9ebf"/></linearGradient><linearGradient id="g183" gradientUnits="userSpaceOnUse" x1="80.7" y1="53.8" x2="86.6" y2="43.8"><stop offset="0" stop-color="#a5a8c5"/><stop offset="1" stop-color="#bcbed4"/></linearGradient><linearGradient id="g184" gradientUnits="userSpaceOnUse" x1="67.2" y1="53.8" x2="73.0" y2="43.6"><stop offset="0" stop-color="#999cbe"/><stop offset="1" stop-color="#afb1cc"/></linearGradient><linearGradient id="g185" gradientUnits="userSpaceOnUse" x1="80.7" y1="53.8" x2="76.6" y2="41.8"><stop offset="0" stop-color="#a5a8c5"/><stop offset="1" stop-color="#bcbed4"/></linearGradient><linearGradient id="g186" gradientUnits="userSpaceOnUse" x1="94.1" y1="53.8" x2="89.4" y2="42.4"><stop offset="0" stop-color="#9b9dbe"/><stop offset="1" stop-color="#b4b6cf"/></linearGradient><linearGradient id="g187" gradientUnits="userSpaceOnUse" x1="94.1" y1="53.8" x2="89.8" y2="42.0"><stop offset="0" stop-color="#9b9dbe"/><stop offset="1" stop-color="#b4b6cf"/></linearGradient><linearGradient id="g188" gradientUnits="userSpaceOnUse" x1="107.6" y1="53.8" x2="103.0" y2="42.2"><stop offset="0" stop-color="#9093b7"/><stop offset="1" stop-color="#abadc9"/></linearGradient><linearGradient id="g189" gradientUnits="userSpaceOnUse" x1="13.4" y1="53.8" x2="12.0" y2="67.1"><stop offset="0" stop-color="#989abd"/><stop offset="1" stop-color="#b0b2cc"/></linearGradient><linearGradient id="g190" gradientUnits="userSpaceOnUse" x1="0.0" y1="53.8" x2="2.2" y2="68.9"><stop offset="0" stop-color="#9b9dbe"/><stop offset="1" stop-color="#b0b2cc"/></linearGradient><linearGradient id="g191" gradientUnits="userSpaceOnUse" x1="26.9" y1="53.8" x2="25.7" y2="67.1"><stop offset="0" stop-color="#9598bb"/><stop offset="1" stop-color="#b2b4ce"/></linearGradient><linearGradient id="g192" gradientUnits="userSpaceOnUse" x1="13.4" y1="53.8" x2="14.6" y2="68.2"><stop offset="0" stop-color="#989abd"/><stop offset="1" stop-color="#b2b4ce"/></linearGradient><linearGradient id="g193" gradientUnits="userSpaceOnUse" x1="40.3" y1="53.8" x2="37.8" y2="66.8"><stop offset="0" stop-color="#9194b8"/><stop offset="1" stop-color="#a6a8c6"/></linearGradient><linearGradient id="g194" gradientUnits="userSpaceOnUse" x1="26.9" y1="53.8" x2="22.1" y2="65.3"><stop offset="0" stop-color="#9598bb"/><stop offset="1" stop-color="#b2b4ce"/></linearGradient><linearGradient id="g195" gradientUnits="userSpaceOnUse" x1="53.8" y1="53.8" x2="49.8" y2="65.9"><stop offset="0" stop-color="#8d90b6"/><stop offset="1" stop-color="#999cbe"/></linearGradient><linearGradient id="g196" gradientUnits="userSpaceOnUse" x1="40.3" y1="53.8" x2="34.4" y2="63.6"><stop offset="0" stop-color="#9194b8"/><stop offset="1" stop-color="#a6a8c6"/></linearGradient><linearGradient id="g197" gradientUnits="userSpaceOnUse" x1="53.8" y1="53.8" x2="60.5" y2="60.5"><stop offset="0" stop-color="#8d90b6"/><stop offset="1" stop-color="#999cbe"/></linearGradient><linearGradient id="g198" gradientUnits="userSpaceOnUse" x1="67.2" y1="67.2" x2="60.5" y2="60.5"><stop offset="0" stop-color="#9497ba"/><stop offset="1" stop-color="#999cbe"/></linearGradient><linearGradient id="g199" gradientUnits="userSpaceOnUse" x1="80.7" y1="67.2" x2="86.3" y2="56.7"><stop offset="0" stop-color="#8f91b7"/><stop offset="1" stop-color="#a5a8c5"/></linearGradient><linearGradient id="g200" gradientUnits="userSpaceOnUse" x1="80.7" y1="67.2" x2="67.2" y2="53.8"><stop offset="0" stop-color="#8f91b7"/><stop offset="1" stop-color="#999cbe"/></linearGradient><linearGradient id="g201" gradientUnits="userSpaceOnUse" x1="80.7" y1="67.2" x2="75.5" y2="56.2"><stop offset="0" stop-color="#8f91b7"/><stop offset="1" stop-color="#a5a8c5"/></linearGradient><linearGradient id="g202" gradientUnits="userSpaceOnUse" x1="94.1" y1="67.2" x2="90.6" y2="54.8"><stop offset="0" stop-color="#8a8db3"/><stop offset="1" stop-color="#9b9dbe"/></linearGradient><linearGradient id="g203" gradientUnits="userSpaceOnUse" x1="94.1" y1="67.2" x2="88.1" y2="57.7"><stop offset="0" stop-color="#8a8db3"/><stop offset="1" stop-color="#9b9dbe"/></linearGradient><linearGradient id="g204" gradientUnits="userSpaceOnUse" x1="107.6" y1="67.2" x2="102.8" y2="55.8"><stop offset="0" stop-color="#8588b0"/><stop offset="1" stop-color="#9093b7"/></linearGradient><linearGradient id="g205" gradientUnits="userSpaceOnUse" x1="0.0" y1="67.2" x2="2.5" y2="80.2"><stop offset="0" stop-color="#adafcb"/><stop offset="1" stop-color="#bbbdd4"/></linearGradient><linearGradient id="g206" gradientUnits="userSpaceOnUse" x1="13.4" y1="67.2" x2="17.5" y2="79.4"><stop offset="0" stop-color="#b0b2cc"/><stop offset="1" stop-color="#c1c2d7"/></linearGradient><linearGradient id="g207" gradientUnits="userSpaceOnUse" x1="13.4" y1="67.2" x2="14.9" y2="80.5"><stop offset="0" stop-color="#b0b2cc"/><stop offset="1" stop-color="#c1c2d7"/></linearGradient><linearGradient id="g208" gradientUnits="userSpaceOnUse" x1="26.9" y1="67.2" x2="29.8" y2="80.0"><stop offset="0" stop-color="#b2b4ce"/><stop offset="1" stop-color="#c5c6da"/></linearGradient><linearGradient id="g209" gradientUnits="userSpaceOnUse" x1="40.3" y1="67.2" x2="34.1" y2="76.4"><stop offset="0" stop-color="#a6a8c6"/><stop offset="1" stop-color="#b8b9d1"/></linearGradient><linearGradient id="g210" gradientUnits="userSpaceOnUse" x1="26.9" y1="67.2" x2="20.6" y2="76.2"><stop offset="0" stop-color="#b2b4ce"/><stop offset="1" stop-color="#c5c6da"/></linearGradient><linearGradient id="g211" gradientUnits="userSpaceOnUse" x1="53.8" y1="67.2" x2="46.7" y2="74.0"><stop offset="0" stop-color="#999cbe"/><stop offset="1" stop-color="#a6a8c6"/></linearGradient><linearGradient id="g212" gradientUnits="userSpaceOnUse" x1="53.8" y1="80.7" x2="46.8" y2="87.4"><stop offset="0" stop-color="#a5a8c5"/><stop offset="1" stop-color="#b8b9d1"/></linearGradient><linearGradient id="g213" gradientUnits="userSpaceOnUse" x1="67.2" y1="80.7" x2="53.8" y2="67.2"><stop offset="0" stop-color="#8f91b7"/><stop offset="1" stop-color="#999cbe"/></linearGradient><linearGradient id="g214" gradientUnits="userSpaceOnUse" x1="67.2" y1="80.7" x2="56.7" y2="86.3"><stop offset="0" stop-color="#8f91b7"/><stop offset="1" stop-color="#a5a8c5"/></linearGradient><linearGradient id="g215" gradientUnits="userSpaceOnUse" x1="80.7" y1="67.2" x2="74.0" y2="60.5"><stop offset="0" stop-color="#8f91b7"/><stop offset="1" stop-color="#9497ba"/></linearGradient><linearGradient id="g216" gradientUnits="userSpaceOnUse" x1="80.7" y1="80.7" x2="74.0" y2="74.0"><stop offset="0" stop-color="#7d80ab"/><stop offset="1" stop-color="#8f91b7"/></linearGradient><linearGradient id="g217" gradientUnits="userSpaceOnUse" x1="80.7" y1="80.7" x2="77.2" y2="68.2"><stop offset="0" stop-color="#7d80ab"/><stop offset="1" stop-color="#8f91b7"/></linearGradient><linearGradient id="g218" gradientUnits="userSpaceOnUse" x1="94.1" y1="80.7" x2="93.2" y2="67.3"><stop offset="0" stop-color="#7c7faa"/><stop offset="1" stop-color="#8a8db3"/></linearGradient><linearGradient id="g219" gradientUnits="userSpaceOnUse" x1="94.1" y1="80.7" x2="90.1" y2="68.6"><stop offset="0" stop-color="#7c7faa"/><stop offset="1" stop-color="#8a8db3"/></linearGradient><linearGradient id="g220" gradientUnits="userSpaceOnUse" x1="107.6" y1="80.7" x2="106.3" y2="67.4"><stop offset="0" stop-color="#7b7eaa"/><stop offset="1" stop-color="#8588b0"/></linearGradient><linearGradient id="g221" gradientUnits="userSpaceOnUse" x1="0.0" y1="80.7" x2="9.3" y2="86.9"><stop offset="0" stop-color="#bbbdd4"/><stop offset="1" stop-color="#c1c2d7"/></linearGradient><linearGradient id="g222" gradientUnits="userSpaceOnUse" x1="0.0" y1="94.1" x2="12.1" y2="98.2"><stop offset="0" stop-color="#bfc0d6"/><stop offset="1" stop-color="#c2c3d8"/></linearGradient><linearGradient id="g223" gradientUnits="userSpaceOnUse" x1="13.4" y1="80.7" x2="25.9" y2="77.1"><stop offset="0" stop-color="#c1c2d7"/><stop offset="1" stop-color="#c5c6da"/></linearGradient><linearGradient id="g224" gradientUnits="userSpaceOnUse" x1="13.4" y1="80.7" x2="29.7" y2="87.7"><stop offset="0" stop-color="#c1c2d7"/><stop offset="1" stop-color="#c4c5d9"/></linearGradient><linearGradient id="g225" gradientUnits="userSpaceOnUse" x1="40.3" y1="80.7" x2="27.0" y2="79.5"><stop offset="0" stop-color="#b8b9d1"/><stop offset="1" stop-color="#c5c6da"/></linearGradient><linearGradient id="g226" gradientUnits="userSpaceOnUse" x1="40.3" y1="80.7" x2="25.9" y2="81.9"><stop offset="0" stop-color="#b8b9d1"/><stop offset="1" stop-color="#c4c5d9"/></linearGradient><linearGradient id="g227" gradientUnits="userSpaceOnUse" x1="53.8" y1="80.7" x2="41.4" y2="84.4"><stop offset="0" stop-color="#a5a8c5"/><stop offset="1" stop-color="#b8b9d1"/></linearGradient><linearGradient id="g228" gradientUnits="userSpaceOnUse" x1="53.8" y1="94.1" x2="40.4" y2="95.1"><stop offset="0" stop-color="#abadc9"/><stop offset="1" stop-color="#b8bad2"/></linearGradient><linearGradient id="g229" gradientUnits="userSpaceOnUse" x1="67.2" y1="80.7" x2="53.9" y2="81.9"><stop offset="0" stop-color="#8f91b7"/><stop offset="1" stop-color="#a5a8c5"/></linearGradient><linearGradient id="g230" gradientUnits="userSpaceOnUse" x1="67.2" y1="94.1" x2="54.3" y2="96.8"><stop offset="0" stop-color="#9193b8"/><stop offset="1" stop-color="#abadc9"/></linearGradient><linearGradient id="g231" gradientUnits="userSpaceOnUse" x1="80.7" y1="94.1" x2="66.5" y2="93.3"><stop offset="0" stop-color="#7c7faa"/><stop offset="1" stop-color="#8f91b7"/></linearGradient><linearGradient id="g232" gradientUnits="userSpaceOnUse" x1="80.7" y1="94.1" x2="67.4" y2="95.5"><stop offset="0" stop-color="#7c7faa"/><stop offset="1" stop-color="#9193b8"/></linearGradient><linearGradient id="g233" gradientUnits="userSpaceOnUse" x1="94.1" y1="80.7" x2="87.4" y2="74.0"><stop offset="0" stop-color="#7c7faa"/><stop offset="1" stop-color="#7d80ab"/></linearGradient><linearGradient id="g234" gradientUnits="userSpaceOnUse" x1="94.1" y1="94.1" x2="87.4" y2="87.4"><stop offset="0" stop-color="#6f72a2"/><stop offset="1" stop-color="#7c7faa"/></linearGradient><linearGradient id="g235" gradientUnits="userSpaceOnUse" x1="94.1" y1="94.1" x2="93.2" y2="80.8"><stop offset="0" stop-color="#6f72a2"/><stop offset="1" stop-color="#7c7faa"/></linearGradient><linearGradient id="g236" gradientUnits="userSpaceOnUse" x1="107.6" y1="94.1" x2="102.1" y2="83.6"><stop offset="0" stop-color="#616599"/><stop offset="1" stop-color="#7b7eaa"/></linearGradient><linearGradient id="g237" gradientUnits="userSpaceOnUse" x1="0.0" y1="94.1" x2="6.5" y2="102.8"><stop offset="0" stop-color="#bfc0d6"/><stop offset="1" stop-color="#c3c4d8"/></linearGradient><linearGradient id="g238" gradientUnits="userSpaceOnUse" x1="13.4" y1="94.1" x2="13.4" y2="107.6"><stop offset="0" stop-color="#c2c3d8"/><stop offset="1" stop-color="#c3c4d8"/></linearGradient><linearGradient id="g239" gradientUnits="userSpaceOnUse" x1="13.4" y1="94.1" x2="23.6" y2="88.4"><stop offset="0" stop-color="#c2c3d8"/><stop offset="1" stop-color="#c4c5d9"/></linearGradient><linearGradient id="g240" gradientUnits="userSpaceOnUse" x1="13.4" y1="94.1" x2="13.4" y2="107.6"><stop offset="0" stop-color="#c2c3d8"/><stop offset="1" stop-color="#c3c4d8"/></linearGradient><linearGradient id="g241" gradientUnits="userSpaceOnUse" x1="40.3" y1="94.1" x2="27.1" y2="92.7"><stop offset="0" stop-color="#b8bad2"/><stop offset="1" stop-color="#c4c5d9"/></linearGradient><linearGradient id="g242" gradientUnits="userSpaceOnUse" x1="40.3" y1="94.1" x2="25.7" y2="95.6"><stop offset="0" stop-color="#b8bad2"/><stop offset="1" stop-color="#c3c4d8"/></linearGradient><linearGradient id="g243" gradientUnits="userSpaceOnUse" x1="53.8" y1="94.1" x2="42.1" y2="98.7"><stop offset="0" stop-color="#abadc9"/><stop offset="1" stop-color="#b8bad2"/></linearGradient><linearGradient id="g244" gradientUnits="userSpaceOnUse" x1="53.8" y1="107.6" x2="40.5" y2="108.9"><stop offset="0" stop-color="#b0b2cc"/><stop offset="1" stop-color="#b9bbd2"/></linearGradient><linearGradient id="g245" gradientUnits="userSpaceOnUse" x1="67.2" y1="94.1" x2="53.9" y2="95.2"><stop offset="0" stop-color="#9193b8"/><stop offset="1" stop-color="#abadc9"/></linearGradient><linearGradient id="g246" gradientUnits="userSpaceOnUse" x1="67.2" y1="107.6" x2="54.2" y2="110.0"><stop offset="0" stop-color="#9395b9"/><stop offset="1" stop-color="#b0b2cc"/></linearGradient><linearGradient id="g247" gradientUnits="userSpaceOnUse" x1="80.7" y1="107.6" x2="66.6" y2="106.9"><stop offset="0" stop-color="#7b7eaa"/><stop offset="1" stop-color="#9193b8"/></linearGradient><linearGradient id="g248" gradientUnits="userSpaceOnUse" x1="80.7" y1="107.6" x2="67.3" y2="108.7"><stop offset="0" stop-color="#7b7eaa"/><stop offset="1" stop-color="#9395b9"/></linearGradient><linearGradient id="g249" gradientUnits="userSpaceOnUse" x1="94.1" y1="94.1" x2="80.8" y2="93.2"><stop offset="0" stop-color="#6f72a2"/><stop offset="1" stop-color="#7c7faa"/></linearGradient><linearGradient id="g250" gradientUnits="userSpaceOnUse" x1="94.1" y1="107.6" x2="83.6" y2="102.1"><stop offset="0" stop-color="#616599"/><stop offset="1" stop-color="#7b7eaa"/></linearGradient><linearGradient id="g251" gradientUnits="userSpaceOnUse" x1="107.6" y1="94.1" x2="100.9" y2="87.4"><stop offset="0" stop-color="#616599"/><stop offset="1" stop-color="#6f72a2"/></linearGradient><linearGradient id="g252" gradientUnits="userSpaceOnUse" x1="107.6" y1="107.6" x2="100.9" y2="100.9"><stop offset="0" stop-color="#474b88"/><stop offset="1" stop-color="#616599"/></linearGradient><linearGradient id="g253" gradientUnits="userSpaceOnUse" x1="0.0" y1="0.0" x2="6.7" y2="6.7"><stop offset="0" stop-color="#a6a8c6"/><stop offset="1" stop-color="#c2c3d8"/></linearGradient><linearGradient id="g254" gradientUnits="userSpaceOnUse" x1="13.4" y1="0.0" x2="20.2" y2="6.7"><stop offset="0" stop-color="#c2c3d8"/><stop offset="1" stop-color="#dddeea"/></linearGradient><linearGradient id="g255" gradientUnits="userSpaceOnUse" x1="13.4" y1="0.0" x2="20.2" y2="6.7"><stop offset="0" stop-color="#c2c3d8"/><stop offset="1" stop-color="#dddeea"/></linearGradient><linearGradient id="g256" gradientUnits="userSpaceOnUse" x1="26.9" y1="0.0" x2="33.6" y2="-6.7"><stop offset="0" stop-color="#dddeea"/><stop offset="1" stop-color="#dfe0eb"/></linearGradient><linearGradient id="g257" gradientUnits="userSpaceOnUse" x1="40.3" y1="0.0" x2="50.8" y2="-5.6"><stop offset="0" stop-color="#dfe0eb"/><stop offset="1" stop-color="#fafafd"/></linearGradient><linearGradient id="g258" gradientUnits="userSpaceOnUse" x1="40.3" y1="13.4" x2="53.5" y2="11.6"><stop offset="0" stop-color="#dddeea"/><stop offset="1" stop-color="#ececf3"/></linearGradient><linearGradient id="g259" gradientUnits="userSpaceOnUse" x1="67.2" y1="0.0" x2="60.5" y2="-6.7"><stop offset="0" stop-color="#ececf3"/><stop offset="1" stop-color="#fafafd"/></linearGradient><linearGradient id="g260" gradientUnits="userSpaceOnUse" x1="67.2" y1="13.4" x2="60.5" y2="6.7"><stop offset="0" stop-color="#e1e2ed"/><stop offset="1" stop-color="#ececf3"/></linearGradient><linearGradient id="g261" gradientUnits="userSpaceOnUse" x1="80.7" y1="0.0" x2="71.8" y2="-6.4"><stop offset="0" stop-color="#dddeea"/><stop offset="1" stop-color="#ececf3"/></linearGradient><linearGradient id="g262" gradientUnits="userSpaceOnUse" x1="80.7" y1="13.4" x2="71.6" y2="7.2"><stop offset="0" stop-color="#d4d5e4"/><stop offset="1" stop-color="#e1e2ed"/></linearGradient><linearGradient id="g263" gradientUnits="userSpaceOnUse" x1="94.1" y1="0.0" x2="82.6" y2="-4.7"><stop offset="0" stop-color="#c7c8db"/><stop offset="1" stop-color="#dddeea"/></linearGradient><linearGradient id="g264" gradientUnits="userSpaceOnUse" x1="94.1" y1="13.4" x2="82.3" y2="9.1"><stop offset="0" stop-color="#bfc0d6"/><stop offset="1" stop-color="#d4d5e4"/></linearGradient><linearGradient id="g265" gradientUnits="userSpaceOnUse" x1="107.6" y1="0.0" x2="95.6" y2="-4.1"><stop offset="0" stop-color="#b0b2cc"/><stop offset="1" stop-color="#c7c8db"/></linearGradient><linearGradient id="g266" gradientUnits="userSpaceOnUse" x1="107.6" y1="13.4" x2="95.2" y2="9.8"><stop offset="0" stop-color="#aaacc8"/><stop offset="1" stop-color="#bfc0d6"/></linearGradient><linearGradient id="g267" gradientUnits="userSpaceOnUse" x1="0.0" y1="13.4" x2="6.7" y2="20.2"><stop offset="0" stop-color="#c2c3d8"/><stop offset="1" stop-color="#dddeea"/></linearGradient><linearGradient id="g268" gradientUnits="userSpaceOnUse" x1="40.3" y1="13.4" x2="49.3" y2="7.1"><stop offset="0" stop-color="#dddeea"/><stop offset="1" stop-color="#ececf3"/></linearGradient><linearGradient id="g269" gradientUnits="userSpaceOnUse" x1="40.3" y1="13.4" x2="53.8" y2="13.4"><stop offset="0" stop-color="#dddeea"/><stop offset="1" stop-color="#e1e2ed"/></linearGradient><linearGradient id="g270" gradientUnits="userSpaceOnUse" x1="67.2" y1="13.4" x2="60.5" y2="6.7"><stop offset="0" stop-color="#e1e2ed"/><stop offset="1" stop-color="#ececf3"/></linearGradient><linearGradient id="g271" gradientUnits="userSpaceOnUse" x1="67.2" y1="26.9" x2="60.5" y2="20.2"><stop offset="0" stop-color="#d9dae7"/><stop offset="1" stop-color="#e1e2ed"/></linearGradient><linearGradient id="g272" gradientUnits="userSpaceOnUse" x1="80.7" y1="13.4" x2="70.9" y2="7.4"><stop offset="0" stop-color="#d4d5e4"/><stop offset="1" stop-color="#e1e2ed"/></linearGradient><linearGradient id="g273" gradientUnits="userSpaceOnUse" x1="80.7" y1="26.9" x2="71.2" y2="20.8"><stop offset="0" stop-color="#cbccde"/><stop offset="1" stop-color="#d9dae7"/></linearGradient><linearGradient id="g274" gradientUnits="userSpaceOnUse" x1="94.1" y1="13.4" x2="82.9" y2="8.5"><stop offset="0" stop-color="#bfc0d6"/><stop offset="1" stop-color="#d4d5e4"/></linearGradient><linearGradient id="g275" gradientUnits="userSpaceOnUse" x1="94.1" y1="26.9" x2="82.5" y2="22.3"><stop offset="0" stop-color="#b7b9d1"/><stop offset="1" stop-color="#cbccde"/></linearGradient><linearGradient id="g276" gradientUnits="userSpaceOnUse" x1="107.6" y1="13.4" x2="95.7" y2="9.1"><stop offset="0" stop-color="#aaacc8"/><stop offset="1" stop-color="#bfc0d6"/></linearGradient><linearGradient id="g277" gradientUnits="userSpaceOnUse" x1="107.6" y1="26.9" x2="95.4" y2="23.0"><stop offset="0" stop-color="#a4a6c4"/><stop offset="1" stop-color="#b7b9d1"/></linearGradient><linearGradient id="g278" gradientUnits="userSpaceOnUse" x1="0.0" y1="26.9" x2="-6.7" y2="33.6"><stop offset="0" stop-color="#dddeea"/><stop offset="1" stop-color="#dfe0eb"/></linearGradient><linearGradient id="g279" gradientUnits="userSpaceOnUse" x1="53.8" y1="40.3" x2="60.0" y2="31.0"><stop offset="0" stop-color="#dbdce9"/><stop offset="1" stop-color="#e1e2ed"/></linearGradient><linearGradient id="g280" gradientUnits="userSpaceOnUse" x1="53.8" y1="40.3" x2="40.3" y2="40.3"><stop offset="0" stop-color="#dbdce9"/><stop offset="1" stop-color="#dddeea"/></linearGradient><linearGradient id="g281" gradientUnits="userSpaceOnUse" x1="67.2" y1="26.9" x2="58.6" y2="20.4"><stop offset="0" stop-color="#d9dae7"/><stop offset="1" stop-color="#e1e2ed"/></linearGradient><linearGradient id="g282" gradientUnits="userSpaceOnUse" x1="67.2" y1="40.3" x2="59.9" y2="33.7"><stop offset="0" stop-color="#c3c4d8"/><stop offset="1" stop-color="#dbdce9"/></linearGradient><linearGradient id="g283" gradientUnits="userSpaceOnUse" x1="67.2" y1="40.3" x2="61.2" y2="30.8"><stop offset="0" stop-color="#c3c4d8"/><stop offset="1" stop-color="#d9dae7"/></linearGradient><linearGradient id="g284" gradientUnits="userSpaceOnUse" x1="80.7" y1="40.3" x2="75.1" y2="29.8"><stop offset="0" stop-color="#b9bbd2"/><stop offset="1" stop-color="#cbccde"/></linearGradient><linearGradient id="g285" gradientUnits="userSpaceOnUse" x1="94.1" y1="26.9" x2="86.7" y2="20.2"><stop offset="0" stop-color="#b7b9d1"/><stop offset="1" stop-color="#cbccde"/></linearGradient><linearGradient id="g286" gradientUnits="userSpaceOnUse" x1="94.1" y1="40.3" x2="86.6" y2="33.7"><stop offset="0" stop-color="#a7aac7"/><stop offset="1" stop-color="#b9bbd2"/></linearGradient><linearGradient id="g287" gradientUnits="userSpaceOnUse" x1="107.6" y1="26.9" x2="99.5" y2="20.3"><stop offset="0" stop-color="#a4a6c4"/><stop offset="1" stop-color="#b7b9d1"/></linearGradient><linearGradient id="g288" gradientUnits="userSpaceOnUse" x1="107.6" y1="40.3" x2="99.4" y2="33.8"><stop offset="0" stop-color="#9698bb"/><stop offset="1" stop-color="#a7aac7"/></linearGradient><linearGradient id="g289" gradientUnits="userSpaceOnUse" x1="13.4" y1="40.3" x2="11.6" y2="53.5"><stop offset="0" stop-color="#dddeea"/><stop offset="1" stop-color="#ececf3"/></linearGradient><linearGradient id="g290" gradientUnits="userSpaceOnUse" x1="0.0" y1="40.3" x2="-5.6" y2="50.8"><stop offset="0" stop-color="#dfe0eb"/><stop offset="1" stop-color="#fafafd"/></linearGradient><linearGradient id="g291" gradientUnits="userSpaceOnUse" x1="13.4" y1="40.3" x2="13.4" y2="53.8"><stop offset="0" stop-color="#dddeea"/><stop offset="1" stop-color="#e1e2ed"/></linearGradient><linearGradient id="g292" gradientUnits="userSpaceOnUse" x1="13.4" y1="40.3" x2="7.1" y2="49.3"><stop offset="0" stop-color="#dddeea"/><stop offset="1" stop-color="#ececf3"/></linearGradient><linearGradient id="g293" gradientUnits="userSpaceOnUse" x1="40.3" y1="53.8" x2="40.3" y2="40.3"><stop offset="0" stop-color="#dbdce9"/><stop offset="1" stop-color="#dddeea"/></linearGradient><linearGradient id="g294" gradientUnits="userSpaceOnUse" x1="40.3" y1="53.8" x2="31.0" y2="60.0"><stop offset="0" stop-color="#dbdce9"/><stop offset="1" stop-color="#e1e2ed"/></linearGradient><linearGradient id="g295" gradientUnits="userSpaceOnUse" x1="53.8" y1="40.3" x2="47.1" y2="33.6"><stop offset="0" stop-color="#dbdce9"/><stop offset="1" stop-color="#dddeea"/></linearGradient><linearGradient id="g296" gradientUnits="userSpaceOnUse" x1="53.8" y1="53.8" x2="47.1" y2="47.1"><stop offset="0" stop-color="#cdcedf"/><stop offset="1" stop-color="#dbdce9"/></linearGradient><linearGradient id="g297" gradientUnits="userSpaceOnUse" x1="67.2" y1="40.3" x2="57.2" y2="34.5"><stop offset="0" stop-color="#c3c4d8"/><stop offset="1" stop-color="#dbdce9"/></linearGradient><linearGradient id="g298" gradientUnits="userSpaceOnUse" x1="67.2" y1="53.8" x2="56.0" y2="48.8"><stop offset="0" stop-color="#babcd3"/><stop offset="1" stop-color="#cdcedf"/></linearGradient><linearGradient id="g299" gradientUnits="userSpaceOnUse" x1="80.7" y1="40.3" x2="73.2" y2="33.7"><stop offset="0" stop-color="#b9bbd2"/><stop offset="1" stop-color="#c3c4d8"/></linearGradient><linearGradient id="g300" gradientUnits="userSpaceOnUse" x1="80.7" y1="53.8" x2="73.6" y2="47.1"><stop offset="0" stop-color="#a8aac7"/><stop offset="1" stop-color="#babcd3"/></linearGradient><linearGradient id="g301" gradientUnits="userSpaceOnUse" x1="94.1" y1="40.3" x2="87.2" y2="33.6"><stop offset="0" stop-color="#a7aac7"/><stop offset="1" stop-color="#b9bbd2"/></linearGradient><linearGradient id="g302" gradientUnits="userSpaceOnUse" x1="94.1" y1="53.8" x2="87.2" y2="47.1"><stop offset="0" stop-color="#989abc"/><stop offset="1" stop-color="#a8aac7"/></linearGradient><linearGradient id="g303" gradientUnits="userSpaceOnUse" x1="107.6" y1="40.3" x2="100.1" y2="33.7"><stop offset="0" stop-color="#9698bb"/><stop offset="1" stop-color="#a7aac7"/></linearGradient><linearGradient id="g304" gradientUnits="userSpaceOnUse" x1="107.6" y1="53.8" x2="100.0" y2="47.1"><stop offset="0" stop-color="#878ab2"/><stop offset="1" stop-color="#989abc"/></linearGradient><linearGradient id="g305" gradientUnits="userSpaceOnUse" x1="13.4" y1="53.8" x2="6.7" y2="47.1"><stop offset="0" stop-color="#ececf3"/><stop offset="1" stop-color="#fafafd"/></linearGradient><linearGradient id="g306" gradientUnits="userSpaceOnUse" x1="13.4" y1="67.2" x2="6.7" y2="60.5"><stop offset="0" stop-color="#e1e2ed"/><stop offset="1" stop-color="#ececf3"/></linearGradient><linearGradient id="g307" gradientUnits="userSpaceOnUse" x1="26.9" y1="53.8" x2="20.2" y2="47.1"><stop offset="0" stop-color="#e1e2ed"/><stop offset="1" stop-color="#ececf3"/></linearGradient><linearGradient id="g308" gradientUnits="userSpaceOnUse" x1="26.9" y1="67.2" x2="20.2" y2="60.5"><stop offset="0" stop-color="#d9dae7"/><stop offset="1" stop-color="#e1e2ed"/></linearGradient><linearGradient id="g309" gradientUnits="userSpaceOnUse" x1="26.9" y1="67.2" x2="20.4" y2="58.6"><stop offset="0" stop-color="#d9dae7"/><stop offset="1" stop-color="#e1e2ed"/></linearGradient><linearGradient id="g310" gradientUnits="userSpaceOnUse" x1="40.3" y1="67.2" x2="33.7" y2="59.9"><stop offset="0" stop-color="#c3c4d8"/><stop offset="1" stop-color="#dbdce9"/></linearGradient><linearGradient id="g311" gradientUnits="userSpaceOnUse" x1="40.3" y1="67.2" x2="34.5" y2="57.2"><stop offset="0" stop-color="#c3c4d8"/><stop offset="1" stop-color="#dbdce9"/></linearGradient><linearGradient id="g312" gradientUnits="userSpaceOnUse" x1="53.8" y1="67.2" x2="48.8" y2="56.0"><stop offset="0" stop-color="#babcd3"/><stop offset="1" stop-color="#cdcedf"/></linearGradient><linearGradient id="g313" gradientUnits="userSpaceOnUse" x1="67.2" y1="53.8" x2="60.5" y2="47.1"><stop offset="0" stop-color="#babcd3"/><stop offset="1" stop-color="#cdcedf"/></linearGradient><linearGradient id="g314" gradientUnits="userSpaceOnUse" x1="67.2" y1="67.2" x2="60.5" y2="60.5"><stop offset="0" stop-color="#aaacc8"/><stop offset="1" stop-color="#babcd3"/></linearGradient><linearGradient id="g315" gradientUnits="userSpaceOnUse" x1="80.7" y1="53.8" x2="73.2" y2="47.1"><stop offset="0" stop-color="#a8aac7"/><stop offset="1" stop-color="#babcd3"/></linearGradient><linearGradient id="g316" gradientUnits="userSpaceOnUse" x1="80.7" y1="67.2" x2="73.2" y2="60.6"><stop offset="0" stop-color="#9799bc"/><stop offset="1" stop-color="#aaacc8"/></linearGradient><linearGradient id="g317" gradientUnits="userSpaceOnUse" x1="80.7" y1="67.2" x2="74.0" y2="60.1"><stop offset="0" stop-color="#9799bc"/><stop offset="1" stop-color="#a8aac7"/></linearGradient><linearGradient id="g318" gradientUnits="userSpaceOnUse" x1="94.1" y1="67.2" x2="87.4" y2="60.1"><stop offset="0" stop-color="#8689b1"/><stop offset="1" stop-color="#989abc"/></linearGradient><linearGradient id="g319" gradientUnits="userSpaceOnUse" x1="94.1" y1="67.2" x2="87.4" y2="60.1"><stop offset="0" stop-color="#8689b1"/><stop offset="1" stop-color="#989abc"/></linearGradient><linearGradient id="g320" gradientUnits="userSpaceOnUse" x1="107.6" y1="67.2" x2="100.9" y2="60.1"><stop offset="0" stop-color="#7679a6"/><stop offset="1" stop-color="#878ab2"/></linearGradient><linearGradient id="g321" gradientUnits="userSpaceOnUse" x1="0.0" y1="80.7" x2="-6.4" y2="71.8"><stop offset="0" stop-color="#dddeea"/><stop offset="1" stop-color="#ececf3"/></linearGradient><linearGradient id="g322" gradientUnits="userSpaceOnUse" x1="13.4" y1="80.7" x2="7.2" y2="71.6"><stop offset="0" stop-color="#d4d5e4"/><stop offset="1" stop-color="#e1e2ed"/></linearGradient><linearGradient id="g323" gradientUnits="userSpaceOnUse" x1="13.4" y1="80.7" x2="7.4" y2="70.9"><stop offset="0" stop-color="#d4d5e4"/><stop offset="1" stop-color="#e1e2ed"/></linearGradient><linearGradient id="g324" gradientUnits="userSpaceOnUse" x1="26.9" y1="80.7" x2="20.8" y2="71.2"><stop offset="0" stop-color="#cbccde"/><stop offset="1" stop-color="#d9dae7"/></linearGradient><linearGradient id="g325" gradientUnits="userSpaceOnUse" x1="40.3" y1="67.2" x2="30.8" y2="61.2"><stop offset="0" stop-color="#c3c4d8"/><stop offset="1" stop-color="#d9dae7"/></linearGradient><linearGradient id="g326" gradientUnits="userSpaceOnUse" x1="40.3" y1="80.7" x2="29.8" y2="75.1"><stop offset="0" stop-color="#b9bbd2"/><stop offset="1" stop-color="#cbccde"/></linearGradient><linearGradient id="g327" gradientUnits="userSpaceOnUse" x1="40.3" y1="80.7" x2="33.7" y2="73.2"><stop offset="0" stop-color="#b9bbd2"/><stop offset="1" stop-color="#c3c4d8"/></linearGradient><linearGradient id="g328" gradientUnits="userSpaceOnUse" x1="53.8" y1="80.7" x2="47.1" y2="73.6"><stop offset="0" stop-color="#a8aac7"/><stop offset="1" stop-color="#babcd3"/></linearGradient><linearGradient id="g329" gradientUnits="userSpaceOnUse" x1="53.8" y1="80.7" x2="47.1" y2="73.2"><stop offset="0" stop-color="#a8aac7"/><stop offset="1" stop-color="#babcd3"/></linearGradient><linearGradient id="g330" gradientUnits="userSpaceOnUse" x1="67.2" y1="80.7" x2="60.6" y2="73.2"><stop offset="0" stop-color="#9799bc"/><stop offset="1" stop-color="#aaacc8"/></linearGradient><linearGradient id="g331" gradientUnits="userSpaceOnUse" x1="80.7" y1="67.2" x2="74.0" y2="60.5"><stop offset="0" stop-color="#9799bc"/><stop offset="1" stop-color="#aaacc8"/></linearGradient><linearGradient id="g332" gradientUnits="userSpaceOnUse" x1="80.7" y1="80.7" x2="74.0" y2="74.0"><stop offset="0" stop-color="#8588b0"/><stop offset="1" stop-color="#9799bc"/></linearGradient><linearGradient id="g333" gradientUnits="userSpaceOnUse" x1="80.7" y1="80.7" x2="74.0" y2="73.6"><stop offset="0" stop-color="#8588b0"/><stop offset="1" stop-color="#9799bc"/></linearGradient><linearGradient id="g334" gradientUnits="userSpaceOnUse" x1="94.1" y1="80.7" x2="87.4" y2="73.6"><stop offset="0" stop-color="#7578a6"/><stop offset="1" stop-color="#8689b1"/></linearGradient><linearGradient id="g335" gradientUnits="userSpaceOnUse" x1="94.1" y1="80.7" x2="87.4" y2="73.6"><stop offset="0" stop-color="#7578a6"/><stop offset="1" stop-color="#8689b1"/></linearGradient><linearGradient id="g336" gradientUnits="userSpaceOnUse" x1="107.6" y1="80.7" x2="100.9" y2="73.6"><stop offset="0" stop-color="#64689b"/><stop offset="1" stop-color="#7679a6"/></linearGradient><linearGradient id="g337" gradientUnits="userSpaceOnUse" x1="0.0" y1="94.1" x2="-4.7" y2="82.6"><stop offset="0" stop-color="#c7c8db"/><stop offset="1" stop-color="#dddeea"/></linearGradient><linearGradient id="g338" gradientUnits="userSpaceOnUse" x1="13.4" y1="94.1" x2="9.1" y2="82.3"><stop offset="0" stop-color="#bfc0d6"/><stop offset="1" stop-color="#d4d5e4"/></linearGradient><linearGradient id="g339" gradientUnits="userSpaceOnUse" x1="13.4" y1="94.1" x2="8.5" y2="82.9"><stop offset="0" stop-color="#bfc0d6"/><stop offset="1" stop-color="#d4d5e4"/></linearGradient><linearGradient id="g340" gradientUnits="userSpaceOnUse" x1="26.9" y1="94.1" x2="22.3" y2="82.5"><stop offset="0" stop-color="#b7b9d1"/><stop offset="1" stop-color="#cbccde"/></linearGradient><linearGradient id="g341" gradientUnits="userSpaceOnUse" x1="26.9" y1="94.1" x2="20.2" y2="86.7"><stop offset="0" stop-color="#b7b9d1"/><stop offset="1" stop-color="#cbccde"/></linearGradient><linearGradient id="g342" gradientUnits="userSpaceOnUse" x1="40.3" y1="94.1" x2="33.7" y2="86.6"><stop offset="0" stop-color="#a7aac7"/><stop offset="1" stop-color="#b9bbd2"/></linearGradient><linearGradient id="g343" gradientUnits="userSpaceOnUse" x1="40.3" y1="94.1" x2="33.6" y2="87.2"><stop offset="0" stop-color="#a7aac7"/><stop offset="1" stop-color="#b9bbd2"/></linearGradient><linearGradient id="g344" gradientUnits="userSpaceOnUse" x1="53.8" y1="94.1" x2="47.1" y2="87.2"><stop offset="0" stop-color="#989abc"/><stop offset="1" stop-color="#a8aac7"/></linearGradient><linearGradient id="g345" gradientUnits="userSpaceOnUse" x1="67.2" y1="80.7" x2="60.1" y2="74.0"><stop offset="0" stop-color="#9799bc"/><stop offset="1" stop-color="#a8aac7"/></linearGradient><linearGradient id="g346" gradientUnits="userSpaceOnUse" x1="67.2" y1="94.1" x2="60.1" y2="87.4"><stop offset="0" stop-color="#8689b1"/><stop offset="1" stop-color="#989abc"/></linearGradient><linearGradient id="g347" gradientUnits="userSpaceOnUse" x1="80.7" y1="80.7" x2="73.6" y2="74.0"><stop offset="0" stop-color="#8588b0"/><stop offset="1" stop-color="#9799bc"/></linearGradient><linearGradient id="g348" gradientUnits="userSpaceOnUse" x1="80.7" y1="94.1" x2="73.6" y2="87.4"><stop offset="0" stop-color="#7578a6"/><stop offset="1" stop-color="#8689b1"/></linearGradient><linearGradient id="g349" gradientUnits="userSpaceOnUse" x1="94.1" y1="80.7" x2="87.4" y2="74.0"><stop offset="0" stop-color="#7578a6"/><stop offset="1" stop-color="#8588b0"/></linearGradient><linearGradient id="g350" gradientUnits="userSpaceOnUse" x1="94.1" y1="94.1" x2="87.4" y2="87.4"><stop offset="0" stop-color="#63679a"/><stop offset="1" stop-color="#7578a6"/></linearGradient><linearGradient id="g351" gradientUnits="userSpaceOnUse" x1="94.1" y1="94.1" x2="87.4" y2="87.0"><stop offset="0" stop-color="#63679a"/><stop offset="1" stop-color="#7578a6"/></linearGradient><linearGradient id="g352" gradientUnits="userSpaceOnUse" x1="107.6" y1="94.1" x2="100.9" y2="87.0"><stop offset="0" stop-color="#52568f"/><stop offset="1" stop-color="#64689b"/></linearGradient><linearGradient id="g353" gradientUnits="userSpaceOnUse" x1="0.0" y1="107.6" x2="-4.1" y2="95.6"><stop offset="0" stop-color="#b0b2cc"/><stop offset="1" stop-color="#c7c8db"/></linearGradient><linearGradient id="g354" gradientUnits="userSpaceOnUse" x1="13.4" y1="107.6" x2="9.8" y2="95.2"><stop offset="0" stop-color="#aaacc8"/><stop offset="1" stop-color="#bfc0d6"/></linearGradient><linearGradient id="g355" gradientUnits="userSpaceOnUse" x1="13.4" y1="107.6" x2="9.1" y2="95.7"><stop offset="0" stop-color="#aaacc8"/><stop offset="1" stop-color="#bfc0d6"/></linearGradient><linearGradient id="g356" gradientUnits="userSpaceOnUse" x1="26.9" y1="107.6" x2="23.0" y2="95.4"><stop offset="0" stop-color="#a4a6c4"/><stop offset="1" stop-color="#b7b9d1"/></linearGradient><linearGradient id="g357" gradientUnits="userSpaceOnUse" x1="26.9" y1="107.6" x2="20.3" y2="99.5"><stop offset="0" stop-color="#a4a6c4"/><stop offset="1" stop-color="#b7b9d1"/></linearGradient><linearGradient id="g358" gradientUnits="userSpaceOnUse" x1="40.3" y1="107.6" x2="33.8" y2="99.4"><stop offset="0" stop-color="#9698bb"/><stop offset="1" stop-color="#a7aac7"/></linearGradient><linearGradient id="g359" gradientUnits="userSpaceOnUse" x1="40.3" y1="107.6" x2="33.7" y2="100.1"><stop offset="0" stop-color="#9698bb"/><stop offset="1" stop-color="#a7aac7"/></linearGradient><linearGradient id="g360" gradientUnits="userSpaceOnUse" x1="53.8" y1="107.6" x2="47.1" y2="100.0"><stop offset="0" stop-color="#878ab2"/><stop offset="1" stop-color="#989abc"/></linearGradient><linearGradient id="g361" gradientUnits="userSpaceOnUse" x1="67.2" y1="94.1" x2="60.1" y2="87.4"><stop offset="0" stop-color="#8689b1"/><stop offset="1" stop-color="#989abc"/></linearGradient><linearGradient id="g362" gradientUnits="userSpaceOnUse" x1="67.2" y1="107.6" x2="60.1" y2="100.9"><stop offset="0" stop-color="#7679a6"/><stop offset="1" stop-color="#878ab2"/></linearGradient><linearGradient id="g363" gradientUnits="userSpaceOnUse" x1="80.7" y1="94.1" x2="73.6" y2="87.4"><stop offset="0" stop-color="#7578a6"/><stop offset="1" stop-color="#8689b1"/></linearGradient><linearGradient id="g364" gradientUnits="userSpaceOnUse" x1="80.7" y1="107.6" x2="73.6" y2="100.9"><stop offset="0" stop-color="#64689b"/><stop offset="1" stop-color="#7679a6"/></linearGradient><linearGradient id="g365" gradientUnits="userSpaceOnUse" x1="94.1" y1="94.1" x2="87.0" y2="87.4"><stop offset="0" stop-color="#63679a"/><stop offset="1" stop-color="#7578a6"/></linearGradient><linearGradient id="g366" gradientUnits="userSpaceOnUse" x1="94.1" y1="107.6" x2="87.0" y2="100.9"><stop offset="0" stop-color="#52568f"/><stop offset="1" stop-color="#64689b"/></linearGradient><linearGradient id="g367" gradientUnits="userSpaceOnUse" x1="107.6" y1="94.1" x2="100.9" y2="87.4"><stop offset="0" stop-color="#52568f"/><stop offset="1" stop-color="#63679a"/></linearGradient><linearGradient id="g368" gradientUnits="userSpaceOnUse" x1="107.6" y1="107.6" x2="100.9" y2="100.9"><stop offset="0" stop-color="#3f4483"/><stop offset="1" stop-color="#52568f"/></linearGradient><g id="qa"><polygon points="13.4,0.0 0.0,13.4 0.0,0.0" fill="url(#g1)"/><polygon points="13.4,0.0 0.0,13.4 13.4,13.4" fill="url(#g2)"/><polygon points="26.9,0.0 13.4,13.4 13.4,0.0" fill="url(#g3)"/><polygon points="26.9,0.0 13.4,13.4 26.9,13.4" fill="url(#g4)"/><polygon points="40.3,0.0 26.9,13.4 26.9,0.0" fill="url(#g5)"/><polygon points="40.3,0.0 26.9,13.4 40.3,13.4" fill="url(#g6)"/><polygon points="40.3,0.0 53.8,13.4 53.8,0.0" fill="url(#g7)"/><polygon points="40.3,0.0 53.8,13.4 40.3,13.4" fill="url(#g8)"/><polygon points="53.8,0.0 67.2,13.4 67.2,0.0" fill="url(#g9)"/><polygon points="53.8,0.0 67.2,13.4 53.8,13.4" fill="url(#g10)"/><polygon points="67.2,0.0 80.7,13.4 80.7,0.0" fill="url(#g11)"/><polygon points="67.2,0.0 80.7,13.4 67.2,13.4" fill="url(#g12)"/><polygon points="80.7,0.0 94.1,13.4 94.1,0.0" fill="url(#g13)"/><polygon points="80.7,0.0 94.1,13.4 80.7,13.4" fill="url(#g14)"/><polygon points="107.6,0.0 94.1,13.4 94.1,0.0" fill="url(#g15)"/><polygon points="107.6,0.0 94.1,13.4 107.6,13.4" fill="url(#g16)"/><polygon points="13.4,13.4 0.0,26.9 0.0,13.4" fill="url(#g17)"/><polygon points="13.4,13.4 0.0,26.9 13.4,26.9" fill="url(#g18)"/><polygon points="26.9,13.4 13.4,26.9 13.4,13.4" fill="url(#g19)"/><polygon points="26.9,13.4 13.4,26.9 26.9,26.9" fill="url(#g20)"/><polygon points="40.3,13.4 26.9,26.9 26.9,13.4" fill="url(#g21)"/><polygon points="40.3,13.4 26.9,26.9 40.3,26.9" fill="url(#g22)"/><polygon points="40.3,13.4 53.8,26.9 53.8,13.4" fill="url(#g23)"/><polygon points="40.3,13.4 53.8,26.9 40.3,26.9" fill="url(#g24)"/><polygon points="53.8,13.4 67.2,26.9 67.2,13.4" fill="url(#g25)"/><polygon points="53.8,13.4 67.2,26.9 53.8,26.9" fill="url(#g26)"/><polygon points="67.2,13.4 80.7,26.9 80.7,13.4" fill="url(#g27)"/><polygon points="67.2,13.4 80.7,26.9 67.2,26.9" fill="url(#g28)"/><polygon points="80.7,13.4 94.1,26.9 94.1,13.4" fill="url(#g29)"/><polygon points="80.7,13.4 94.1,26.9 80.7,26.9" fill="url(#g30)"/><polygon points="107.6,13.4 94.1,26.9 94.1,13.4" fill="url(#g31)"/><polygon points="107.6,13.4 94.1,26.9 107.6,26.9" fill="url(#g32)"/><polygon points="13.4,26.9 0.0,40.3 0.0,26.9" fill="url(#g33)"/><polygon points="13.4,26.9 0.0,40.3 13.4,40.3" fill="url(#g34)"/><polygon points="26.9,26.9 13.4,40.3 13.4,26.9" fill="url(#g35)"/><polygon points="26.9,26.9 13.4,40.3 26.9,40.3" fill="url(#g36)"/><polygon points="40.3,26.9 26.9,40.3 26.9,26.9" fill="url(#g37)"/><polygon points="40.3,26.9 26.9,40.3 40.3,40.3" fill="url(#g38)"/><polygon points="40.3,26.9 53.8,40.3 53.8,26.9" fill="url(#g39)"/><polygon points="40.3,26.9 53.8,40.3 40.3,40.3" fill="url(#g40)"/><polygon points="53.8,26.9 67.2,40.3 67.2,26.9" fill="url(#g41)"/><polygon points="53.8,26.9 67.2,40.3 53.8,40.3" fill="url(#g42)"/><polygon points="67.2,26.9 80.7,40.3 80.7,26.9" fill="url(#g43)"/><polygon points="67.2,26.9 80.7,40.3 67.2,40.3" fill="url(#g44)"/><polygon points="94.1,26.9 80.7,40.3 80.7,26.9" fill="url(#g45)"/><polygon points="94.1,26.9 80.7,40.3 94.1,40.3" fill="url(#g46)"/><polygon points="107.6,26.9 94.1,40.3 94.1,26.9" fill="url(#g47)"/><polygon points="107.6,26.9 94.1,40.3 107.6,40.3" fill="url(#g48)"/><polygon points="13.4,40.3 0.0,53.8 0.0,40.3" fill="url(#g49)"/><polygon points="13.4,40.3 0.0,53.8 13.4,53.8" fill="url(#g50)"/><polygon points="26.9,40.3 13.4,53.8 13.4,40.3" fill="url(#g51)"/><polygon points="26.9,40.3 13.4,53.8 26.9,53.8" fill="url(#g52)"/><polygon points="26.9,40.3 40.3,53.8 40.3,40.3" fill="url(#g53)"/><polygon points="26.9,40.3 40.3,53.8 26.9,53.8" fill="url(#g54)"/><polygon points="53.8,40.3 40.3,53.8 40.3,40.3" fill="url(#g55)"/><polygon points="53.8,40.3 40.3,53.8 53.8,53.8" fill="url(#g56)"/><polygon points="53.8,40.3 67.2,53.8 67.2,40.3" fill="url(#g57)"/><polygon points="53.8,40.3 67.2,53.8 53.8,53.8" fill="url(#g58)"/><polygon points="67.2,40.3 80.7,53.8 80.7,40.3" fill="url(#g59)"/><polygon points="67.2,40.3 80.7,53.8 67.2,53.8" fill="url(#g60)"/><polygon points="94.1,40.3 80.7,53.8 80.7,40.3" fill="url(#g61)"/><polygon points="94.1,40.3 80.7,53.8 94.1,53.8" fill="url(#g62)"/><polygon points="107.6,40.3 94.1,53.8 94.1,40.3" fill="url(#g63)"/><polygon points="107.6,40.3 94.1,53.8 107.6,53.8" fill="url(#g64)"/><polygon points="13.4,53.8 0.0,67.2 0.0,53.8" fill="url(#g65)"/><polygon points="13.4,53.8 0.0,67.2 13.4,67.2" fill="url(#g66)"/><polygon points="26.9,53.8 13.4,67.2 13.4,53.8" fill="url(#g67)"/><polygon points="26.9,53.8 13.4,67.2 26.9,67.2" fill="url(#g68)"/><polygon points="26.9,53.8 40.3,67.2 40.3,53.8" fill="url(#g69)"/><polygon points="26.9,53.8 40.3,67.2 26.9,67.2" fill="url(#g70)"/><polygon points="40.3,53.8 53.8,67.2 53.8,53.8" fill="url(#g71)"/><polygon points="40.3,53.8 53.8,67.2 40.3,67.2" fill="url(#g72)"/><polygon points="67.2,53.8 53.8,67.2 53.8,53.8" fill="url(#g73)"/><polygon points="67.2,53.8 53.8,67.2 67.2,67.2" fill="url(#g74)"/><polygon points="67.2,53.8 80.7,67.2 80.7,53.8" fill="url(#g75)"/><polygon points="67.2,53.8 80.7,67.2 67.2,67.2" fill="url(#g76)"/><polygon points="94.1,53.8 80.7,67.2 80.7,53.8" fill="url(#g77)"/><polygon points="94.1,53.8 80.7,67.2 94.1,67.2" fill="url(#g78)"/><polygon points="107.6,53.8 94.1,67.2 94.1,53.8" fill="url(#g79)"/><polygon points="107.6,53.8 94.1,67.2 107.6,67.2" fill="url(#g80)"/><polygon points="13.4,67.2 0.0,80.7 0.0,67.2" fill="url(#g81)"/><polygon points="13.4,67.2 0.0,80.7 13.4,80.7" fill="url(#g82)"/><polygon points="26.9,67.2 13.4,80.7 13.4,67.2" fill="url(#g83)"/><polygon points="26.9,67.2 13.4,80.7 26.9,80.7" fill="url(#g84)"/><polygon points="26.9,67.2 40.3,80.7 40.3,67.2" fill="url(#g85)"/><polygon points="26.9,67.2 40.3,80.7 26.9,80.7" fill="url(#g86)"/><polygon points="40.3,67.2 53.8,80.7 53.8,67.2" fill="url(#g87)"/><polygon points="40.3,67.2 53.8,80.7 40.3,80.7" fill="url(#g88)"/><polygon points="53.8,67.2 67.2,80.7 67.2,67.2" fill="url(#g89)"/><polygon points="53.8,67.2 67.2,80.7 53.8,80.7" fill="url(#g90)"/><polygon points="80.7,67.2 67.2,80.7 67.2,67.2" fill="url(#g91)"/><polygon points="80.7,67.2 67.2,80.7 80.7,80.7" fill="url(#g92)"/><polygon points="80.7,67.2 94.1,80.7 94.1,67.2" fill="url(#g93)"/><polygon points="80.7,67.2 94.1,80.7 80.7,80.7" fill="url(#g94)"/><polygon points="94.1,67.2 107.6,80.7 107.6,67.2" fill="url(#g95)"/><polygon points="94.1,67.2 107.6,80.7 94.1,80.7" fill="url(#g96)"/><polygon points="13.4,80.7 0.0,94.1 0.0,80.7" fill="url(#g97)"/><polygon points="13.4,80.7 0.0,94.1 13.4,94.1" fill="#c7c8db"/><polygon points="13.4,80.7 26.9,94.1 26.9,80.7" fill="url(#g98)"/><polygon points="13.4,80.7 26.9,94.1 13.4,94.1" fill="#c7c8db"/><polygon points="26.9,80.7 40.3,94.1 40.3,80.7" fill="url(#g99)"/><polygon points="26.9,80.7 40.3,94.1 26.9,94.1" fill="url(#g100)"/><polygon points="40.3,80.7 53.8,94.1 53.8,80.7" fill="url(#g101)"/><polygon points="40.3,80.7 53.8,94.1 40.3,94.1" fill="url(#g102)"/><polygon points="53.8,80.7 67.2,94.1 67.2,80.7" fill="url(#g103)"/><polygon points="53.8,80.7 67.2,94.1 53.8,94.1" fill="url(#g104)"/><polygon points="67.2,80.7 80.7,94.1 80.7,80.7" fill="url(#g105)"/><polygon points="67.2,80.7 80.7,94.1 67.2,94.1" fill="url(#g106)"/><polygon points="94.1,80.7 80.7,94.1 80.7,80.7" fill="url(#g107)"/><polygon points="94.1,80.7 80.7,94.1 94.1,94.1" fill="url(#g108)"/><polygon points="107.6,80.7 94.1,94.1 94.1,80.7" fill="url(#g109)"/><polygon points="107.6,80.7 94.1,94.1 107.6,94.1" fill="url(#g110)"/><polygon points="0.0,94.1 13.4,107.6 13.4,94.1" fill="#c7c8db"/><polygon points="0.0,94.1 13.4,107.6 0.0,107.6" fill="url(#g111)"/><polygon points="13.4,94.1 26.9,107.6 26.9,94.1" fill="url(#g112)"/><polygon points="13.4,94.1 26.9,107.6 13.4,107.6" fill="#c7c8db"/><polygon points="26.9,94.1 40.3,107.6 40.3,94.1" fill="url(#g113)"/><polygon points="26.9,94.1 40.3,107.6 26.9,107.6" fill="url(#g114)"/><polygon points="40.3,94.1 53.8,107.6 53.8,94.1" fill="url(#g115)"/><polygon points="40.3,94.1 53.8,107.6 40.3,107.6" fill="url(#g116)"/><polygon points="53.8,94.1 67.2,107.6 67.2,94.1" fill="url(#g117)"/><polygon points="53.8,94.1 67.2,107.6 53.8,107.6" fill="url(#g118)"/><polygon points="67.2,94.1 80.7,107.6 80.7,94.1" fill="url(#g119)"/><polygon points="67.2,94.1 80.7,107.6 67.2,107.6" fill="url(#g120)"/><polygon points="94.1,94.1 80.7,107.6 80.7,94.1" fill="url(#g121)"/><polygon points="94.1,94.1 80.7,107.6 94.1,107.6" fill="url(#g122)"/><polygon points="107.6,94.1 94.1,107.6 94.1,94.1" fill="url(#g123)"/><polygon points="107.6,94.1 94.1,107.6 107.6,107.6" fill="url(#g124)"/></g><g id="qb"><polygon points="13.4,0.0 0.0,13.4 0.0,0.0" fill="url(#g125)"/><polygon points="13.4,0.0 0.0,13.4 13.4,13.4" fill="url(#g126)"/><polygon points="26.9,0.0 13.4,13.4 13.4,0.0" fill="url(#g127)"/><polygon points="26.9,0.0 13.4,13.4 26.9,13.4" fill="url(#g128)"/><polygon points="40.3,0.0 26.9,13.4 26.9,0.0" fill="url(#g129)"/><polygon points="40.3,0.0 26.9,13.4 40.3,13.4" fill="url(#g130)"/><polygon points="40.3,0.0 53.8,13.4 53.8,0.0" fill="url(#g131)"/><polygon points="40.3,0.0 53.8,13.4 40.3,13.4" fill="url(#g132)"/><polygon points="53.8,0.0 67.2,13.4 67.2,0.0" fill="url(#g133)"/><polygon points="53.8,0.0 67.2,13.4 53.8,13.4" fill="url(#g134)"/><polygon points="67.2,0.0 80.7,13.4 80.7,0.0" fill="url(#g135)"/><polygon points="67.2,0.0 80.7,13.4 67.2,13.4" fill="url(#g136)"/><polygon points="80.7,0.0 94.1,13.4 94.1,0.0" fill="url(#g137)"/><polygon points="80.7,0.0 94.1,13.4 80.7,13.4" fill="url(#g138)"/><polygon points="107.6,0.0 94.1,13.4 94.1,0.0" fill="url(#g139)"/><polygon points="107.6,0.0 94.1,13.4 107.6,13.4" fill="url(#g140)"/><polygon points="13.4,13.4 0.0,26.9 0.0,13.4" fill="url(#g141)"/><polygon points="13.4,13.4 0.0,26.9 13.4,26.9" fill="url(#g142)"/><polygon points="26.9,13.4 13.4,26.9 13.4,13.4" fill="url(#g143)"/><polygon points="26.9,13.4 13.4,26.9 26.9,26.9" fill="url(#g144)"/><polygon points="40.3,13.4 26.9,26.9 26.9,13.4" fill="url(#g145)"/><polygon points="40.3,13.4 26.9,26.9 40.3,26.9" fill="url(#g146)"/><polygon points="40.3,13.4 53.8,26.9 53.8,13.4" fill="url(#g147)"/><polygon points="40.3,13.4 53.8,26.9 40.3,26.9" fill="url(#g148)"/><polygon points="53.8,13.4 67.2,26.9 67.2,13.4" fill="url(#g149)"/><polygon points="53.8,13.4 67.2,26.9 53.8,26.9" fill="url(#g150)"/><polygon points="67.2,13.4 80.7,26.9 80.7,13.4" fill="url(#g151)"/><polygon points="67.2,13.4 80.7,26.9 67.2,26.9" fill="url(#g152)"/><polygon points="80.7,13.4 94.1,26.9 94.1,13.4" fill="url(#g153)"/><polygon points="80.7,13.4 94.1,26.9 80.7,26.9" fill="url(#g154)"/><polygon points="107.6,13.4 94.1,26.9 94.1,13.4" fill="url(#g155)"/><polygon points="107.6,13.4 94.1,26.9 107.6,26.9" fill="url(#g156)"/><polygon points="13.4,26.9 0.0,40.3 0.0,26.9" fill="url(#g157)"/><polygon points="13.4,26.9 0.0,40.3 13.4,40.3" fill="url(#g158)"/><polygon points="26.9,26.9 13.4,40.3 13.4,26.9" fill="url(#g159)"/><polygon points="26.9,26.9 13.4,40.3 26.9,40.3" fill="url(#g160)"/><polygon points="40.3,26.9 26.9,40.3 26.9,26.9" fill="url(#g161)"/><polygon points="40.3,26.9 26.9,40.3 40.3,40.3" fill="url(#g162)"/><polygon points="40.3,26.9 53.8,40.3 53.8,26.9" fill="url(#g163)"/><polygon points="40.3,26.9 53.8,40.3 40.3,40.3" fill="url(#g164)"/><polygon points="53.8,26.9 67.2,40.3 67.2,26.9" fill="url(#g165)"/><polygon points="53.8,26.9 67.2,40.3 53.8,40.3" fill="url(#g166)"/><polygon points="67.2,26.9 80.7,40.3 80.7,26.9" fill="url(#g167)"/><polygon points="67.2,26.9 80.7,40.3 67.2,40.3" fill="url(#g168)"/><polygon points="94.1,26.9 80.7,40.3 80.7,26.9" fill="url(#g169)"/><polygon points="94.1,26.9 80.7,40.3 94.1,40.3" fill="url(#g170)"/><polygon points="107.6,26.9 94.1,40.3 94.1,26.9" fill="url(#g171)"/><polygon points="107.6,26.9 94.1,40.3 107.6,40.3" fill="url(#g172)"/><polygon points="0.0,40.3 13.4,53.8 13.4,40.3" fill="url(#g173)"/><polygon points="0.0,40.3 13.4,53.8 0.0,53.8" fill="url(#g174)"/><polygon points="13.4,40.3 26.9,53.8 26.9,40.3" fill="url(#g175)"/><polygon points="13.4,40.3 26.9,53.8 13.4,53.8" fill="url(#g176)"/><polygon points="40.3,40.3 26.9,53.8 26.9,40.3" fill="url(#g177)"/><polygon points="40.3,40.3 26.9,53.8 40.3,53.8" fill="url(#g178)"/><polygon points="40.3,40.3 53.8,53.8 53.8,40.3" fill="url(#g179)"/><polygon points="40.3,40.3 53.8,53.8 40.3,53.8" fill="url(#g180)"/><polygon points="53.8,40.3 67.2,53.8 67.2,40.3" fill="url(#g181)"/><polygon points="53.8,40.3 67.2,53.8 53.8,53.8" fill="url(#g182)"/><polygon points="67.2,40.3 80.7,53.8 80.7,40.3" fill="url(#g183)"/><polygon points="67.2,40.3 80.7,53.8 67.2,53.8" fill="url(#g184)"/><polygon points="94.1,40.3 80.7,53.8 80.7,40.3" fill="url(#g185)"/><polygon points="94.1,40.3 80.7,53.8 94.1,53.8" fill="url(#g186)"/><polygon points="107.6,40.3 94.1,53.8 94.1,40.3" fill="url(#g187)"/><polygon points="107.6,40.3 94.1,53.8 107.6,53.8" fill="url(#g188)"/><polygon points="0.0,53.8 13.4,67.2 13.4,53.8" fill="url(#g189)"/><polygon points="0.0,53.8 13.4,67.2 0.0,67.2" fill="url(#g190)"/><polygon points="13.4,53.8 26.9,67.2 26.9,53.8" fill="url(#g191)"/><polygon points="13.4,53.8 26.9,67.2 13.4,67.2" fill="url(#g192)"/><polygon points="26.9,53.8 40.3,67.2 40.3,53.8" fill="url(#g193)"/><polygon points="26.9,53.8 40.3,67.2 26.9,67.2" fill="url(#g194)"/><polygon points="40.3,53.8 53.8,67.2 53.8,53.8" fill="url(#g195)"/><polygon points="40.3,53.8 53.8,67.2 40.3,67.2" fill="url(#g196)"/><polygon points="67.2,53.8 53.8,67.2 53.8,53.8" fill="url(#g197)"/><polygon points="67.2,53.8 53.8,67.2 67.2,67.2" fill="url(#g198)"/><polygon points="67.2,53.8 80.7,67.2 80.7,53.8" fill="url(#g199)"/><polygon points="67.2,53.8 80.7,67.2 67.2,67.2" fill="url(#g200)"/><polygon points="94.1,53.8 80.7,67.2 80.7,53.8" fill="url(#g201)"/><polygon points="94.1,53.8 80.7,67.2 94.1,67.2" fill="url(#g202)"/><polygon points="107.6,53.8 94.1,67.2 94.1,53.8" fill="url(#g203)"/><polygon points="107.6,53.8 94.1,67.2 107.6,67.2" fill="url(#g204)"/><polygon points="13.4,67.2 0.0,80.7 0.0,67.2" fill="url(#g205)"/><polygon points="13.4,67.2 0.0,80.7 13.4,80.7" fill="url(#g206)"/><polygon points="26.9,67.2 13.4,80.7 13.4,67.2" fill="url(#g207)"/><polygon points="26.9,67.2 13.4,80.7 26.9,80.7" fill="url(#g208)"/><polygon points="26.9,67.2 40.3,80.7 40.3,67.2" fill="url(#g209)"/><polygon points="26.9,67.2 40.3,80.7 26.9,80.7" fill="url(#g210)"/><polygon points="40.3,67.2 53.8,80.7 53.8,67.2" fill="url(#g211)"/><polygon points="40.3,67.2 53.8,80.7 40.3,80.7" fill="url(#g212)"/><polygon points="53.8,67.2 67.2,80.7 67.2,67.2" fill="url(#g213)"/><polygon points="53.8,67.2 67.2,80.7 53.8,80.7" fill="url(#g214)"/><polygon points="80.7,67.2 67.2,80.7 67.2,67.2" fill="url(#g215)"/><polygon points="80.7,67.2 67.2,80.7 80.7,80.7" fill="url(#g216)"/><polygon points="94.1,67.2 80.7,80.7 80.7,67.2" fill="url(#g217)"/><polygon points="94.1,67.2 80.7,80.7 94.1,80.7" fill="url(#g218)"/><polygon points="107.6,67.2 94.1,80.7 94.1,67.2" fill="url(#g219)"/><polygon points="107.6,67.2 94.1,80.7 107.6,80.7" fill="url(#g220)"/><polygon points="13.4,80.7 0.0,94.1 0.0,80.7" fill="url(#g221)"/><polygon points="13.4,80.7 0.0,94.1 13.4,94.1" fill="url(#g222)"/><polygon points="13.4,80.7 26.9,94.1 26.9,80.7" fill="url(#g223)"/><polygon points="13.4,80.7 26.9,94.1 13.4,94.1" fill="url(#g224)"/><polygon points="40.3,80.7 26.9,94.1 26.9,80.7" fill="url(#g225)"/><polygon points="40.3,80.7 26.9,94.1 40.3,94.1" fill="url(#g226)"/><polygon points="40.3,80.7 53.8,94.1 53.8,80.7" fill="url(#g227)"/><polygon points="40.3,80.7 53.8,94.1 40.3,94.1" fill="url(#g228)"/><polygon points="53.8,80.7 67.2,94.1 67.2,80.7" fill="url(#g229)"/><polygon points="53.8,80.7 67.2,94.1 53.8,94.1" fill="url(#g230)"/><polygon points="67.2,80.7 80.7,94.1 80.7,80.7" fill="url(#g231)"/><polygon points="67.2,80.7 80.7,94.1 67.2,94.1" fill="url(#g232)"/><polygon points="94.1,80.7 80.7,94.1 80.7,80.7" fill="url(#g233)"/><polygon points="94.1,80.7 80.7,94.1 94.1,94.1" fill="url(#g234)"/><polygon points="107.6,80.7 94.1,94.1 94.1,80.7" fill="url(#g235)"/><polygon points="107.6,80.7 94.1,94.1 107.6,94.1" fill="url(#g236)"/><polygon points="13.4,94.1 0.0,107.6 0.0,94.1" fill="url(#g237)"/><polygon points="13.4,94.1 0.0,107.6 13.4,107.6" fill="url(#g238)"/><polygon points="13.4,94.1 26.9,107.6 26.9,94.1" fill="url(#g239)"/><polygon points="13.4,94.1 26.9,107.6 13.4,107.6" fill="url(#g240)"/><polygon points="40.3,94.1 26.9,107.6 26.9,94.1" fill="url(#g241)"/><polygon points="40.3,94.1 26.9,107.6 40.3,107.6" fill="url(#g242)"/><polygon points="40.3,94.1 53.8,107.6 53.8,94.1" fill="url(#g243)"/><polygon points="40.3,94.1 53.8,107.6 40.3,107.6" fill="url(#g244)"/><polygon points="53.8,94.1 67.2,107.6 67.2,94.1" fill="url(#g245)"/><polygon points="53.8,94.1 67.2,107.6 53.8,107.6" fill="url(#g246)"/><polygon points="67.2,94.1 80.7,107.6 80.7,94.1" fill="url(#g247)"/><polygon points="67.2,94.1 80.7,107.6 67.2,107.6" fill="url(#g248)"/><polygon points="94.1,94.1 80.7,107.6 80.7,94.1" fill="url(#g249)"/><polygon points="94.1,94.1 80.7,107.6 94.1,107.6" fill="url(#g250)"/><polygon points="107.6,94.1 94.1,107.6 94.1,94.1" fill="url(#g251)"/><polygon points="107.6,94.1 94.1,107.6 107.6,107.6" fill="url(#g252)"/></g><g id="qc"><polygon points="13.4,0.0 0.0,13.4 0.0,0.0" fill="url(#g253)"/><polygon points="13.4,0.0 0.0,13.4 13.4,13.4" fill="url(#g254)"/><polygon points="26.9,0.0 13.4,13.4 13.4,0.0" fill="url(#g255)"/><polygon points="26.9,0.0 13.4,13.4 26.9,13.4" fill="#dddeea"/><polygon points="26.9,0.0 40.3,13.4 40.3,0.0" fill="url(#g256)"/><polygon points="26.9,0.0 40.3,13.4 26.9,13.4" fill="#dddeea"/><polygon points="40.3,0.0 53.8,13.4 53.8,0.0" fill="url(#g257)"/><polygon points="40.3,0.0 53.8,13.4 40.3,13.4" fill="url(#g258)"/><polygon points="67.2,0.0 53.8,13.4 53.8,0.0" fill="url(#g259)"/><polygon points="67.2,0.0 53.8,13.4 67.2,13.4" fill="url(#g260)"/><polygon points="80.7,0.0 67.2,13.4 67.2,0.0" fill="url(#g261)"/><polygon points="80.7,0.0 67.2,13.4 80.7,13.4" fill="url(#g262)"/><polygon points="94.1,0.0 80.7,13.4 80.7,0.0" fill="url(#g263)"/><polygon points="94.1,0.0 80.7,13.4 94.1,13.4" fill="url(#g264)"/><polygon points="107.6,0.0 94.1,13.4 94.1,0.0" fill="url(#g265)"/><polygon points="107.6,0.0 94.1,13.4 107.6,13.4" fill="url(#g266)"/><polygon points="13.4,13.4 0.0,26.9 0.0,13.4" fill="url(#g267)"/><polygon points="13.4,13.4 0.0,26.9 13.4,26.9" fill="#dddeea"/><polygon points="13.4,13.4 26.9,26.9 26.9,13.4" fill="#dddeea"/><polygon points="13.4,13.4 26.9,26.9 13.4,26.9" fill="#dddeea"/><polygon points="26.9,13.4 40.3,26.9 40.3,13.4" fill="#dddeea"/><polygon points="26.9,13.4 40.3,26.9 26.9,26.9" fill="#dddeea"/><polygon points="40.3,13.4 53.8,26.9 53.8,13.4" fill="url(#g268)"/><polygon points="40.3,13.4 53.8,26.9 40.3,26.9" fill="url(#g269)"/><polygon points="67.2,13.4 53.8,26.9 53.8,13.4" fill="url(#g270)"/><polygon points="67.2,13.4 53.8,26.9 67.2,26.9" fill="url(#g271)"/><polygon points="80.7,13.4 67.2,26.9 67.2,13.4" fill="url(#g272)"/><polygon points="80.7,13.4 67.2,26.9 80.7,26.9" fill="url(#g273)"/><polygon points="94.1,13.4 80.7,26.9 80.7,13.4" fill="url(#g274)"/><polygon points="94.1,13.4 80.7,26.9 94.1,26.9" fill="url(#g275)"/><polygon points="107.6,13.4 94.1,26.9 94.1,13.4" fill="url(#g276)"/><polygon points="107.6,13.4 94.1,26.9 107.6,26.9" fill="url(#g277)"/><polygon points="0.0,26.9 13.4,40.3 13.4,26.9" fill="#dddeea"/><polygon points="0.0,26.9 13.4,40.3 0.0,40.3" fill="url(#g278)"/><polygon points="13.4,26.9 26.9,40.3 26.9,26.9" fill="#dddeea"/><polygon points="13.4,26.9 26.9,40.3 13.4,40.3" fill="#dddeea"/><polygon points="26.9,26.9 40.3,40.3 40.3,26.9" fill="#dddeea"/><polygon points="26.9,26.9 40.3,40.3 26.9,40.3" fill="#dddeea"/><polygon points="40.3,26.9 53.8,40.3 53.8,26.9" fill="url(#g279)"/><polygon points="40.3,26.9 53.8,40.3 40.3,40.3" fill="url(#g280)"/><polygon points="67.2,26.9 53.8,40.3 53.8,26.9" fill="url(#g281)"/><polygon points="67.2,26.9 53.8,40.3 67.2,40.3" fill="url(#g282)"/><polygon points="80.7,26.9 67.2,40.3 67.2,26.9" fill="url(#g283)"/><polygon points="80.7,26.9 67.2,40.3 80.7,40.3" fill="url(#g284)"/><polygon points="94.1,26.9 80.7,40.3 80.7,26.9" fill="url(#g285)"/><polygon points="94.1,26.9 80.7,40.3 94.1,40.3" fill="url(#g286)"/><polygon points="107.6,26.9 94.1,40.3 94.1,26.9" fill="url(#g287)"/><polygon points="107.6,26.9 94.1,40.3 107.6,40.3" fill="url(#g288)"/><polygon points="0.0,40.3 13.4,53.8 13.4,40.3" fill="url(#g289)"/><polygon points="0.0,40.3 13.4,53.8 0.0,53.8" fill="url(#g290)"/><polygon points="13.4,40.3 26.9,53.8 26.9,40.3" fill="url(#g291)"/><polygon points="13.4,40.3 26.9,53.8 13.4,53.8" fill="url(#g292)"/><polygon points="26.9,40.3 40.3,53.8 40.3,40.3" fill="url(#g293)"/><polygon points="26.9,40.3 40.3,53.8 26.9,53.8" fill="url(#g294)"/><polygon points="53.8,40.3 40.3,53.8 40.3,40.3" fill="url(#g295)"/><polygon points="53.8,40.3 40.3,53.8 53.8,53.8" fill="url(#g296)"/><polygon points="67.2,40.3 53.8,53.8 53.8,40.3" fill="url(#g297)"/><polygon points="67.2,40.3 53.8,53.8 67.2,53.8" fill="url(#g298)"/><polygon points="80.7,40.3 67.2,53.8 67.2,40.3" fill="url(#g299)"/><polygon points="80.7,40.3 67.2,53.8 80.7,53.8" fill="url(#g300)"/><polygon points="94.1,40.3 80.7,53.8 80.7,40.3" fill="url(#g301)"/><polygon points="94.1,40.3 80.7,53.8 94.1,53.8" fill="url(#g302)"/><polygon points="107.6,40.3 94.1,53.8 94.1,40.3" fill="url(#g303)"/><polygon points="107.6,40.3 94.1,53.8 107.6,53.8" fill="url(#g304)"/><polygon points="13.4,53.8 0.0,67.2 0.0,53.8" fill="url(#g305)"/><polygon points="13.4,53.8 0.0,67.2 13.4,67.2" fill="url(#g306)"/><polygon points="26.9,53.8 13.4,67.2 13.4,53.8" fill="url(#g307)"/><polygon points="26.9,53.8 13.4,67.2 26.9,67.2" fill="url(#g308)"/><polygon points="40.3,53.8 26.9,67.2 26.9,53.8" fill="url(#g309)"/><polygon points="40.3,53.8 26.9,67.2 40.3,67.2" fill="url(#g310)"/><polygon points="53.8,53.8 40.3,67.2 40.3,53.8" fill="url(#g311)"/><polygon points="53.8,53.8 40.3,67.2 53.8,67.2" fill="url(#g312)"/><polygon points="67.2,53.8 53.8,67.2 53.8,53.8" fill="url(#g313)"/><polygon points="67.2,53.8 53.8,67.2 67.2,67.2" fill="url(#g314)"/><polygon points="80.7,53.8 67.2,67.2 67.2,53.8" fill="url(#g315)"/><polygon points="80.7,53.8 67.2,67.2 80.7,67.2" fill="url(#g316)"/><polygon points="94.1,53.8 80.7,67.2 80.7,53.8" fill="url(#g317)"/><polygon points="94.1,53.8 80.7,67.2 94.1,67.2" fill="url(#g318)"/><polygon points="107.6,53.8 94.1,67.2 94.1,53.8" fill="url(#g319)"/><polygon points="107.6,53.8 94.1,67.2 107.6,67.2" fill="url(#g320)"/><polygon points="13.4,67.2 0.0,80.7 0.0,67.2" fill="url(#g321)"/><polygon points="13.4,67.2 0.0,80.7 13.4,80.7" fill="url(#g322)"/><polygon points="26.9,67.2 13.4,80.7 13.4,67.2" fill="url(#g323)"/><polygon points="26.9,67.2 13.4,80.7 26.9,80.7" fill="url(#g324)"/><polygon points="40.3,67.2 26.9,80.7 26.9,67.2" fill="url(#g325)"/><polygon points="40.3,67.2 26.9,80.7 40.3,80.7" fill="url(#g326)"/><polygon points="53.8,67.2 40.3,80.7 40.3,67.2" fill="url(#g327)"/><polygon points="53.8,67.2 40.3,80.7 53.8,80.7" fill="url(#g328)"/><polygon points="67.2,67.2 53.8,80.7 53.8,67.2" fill="url(#g329)"/><polygon points="67.2,67.2 53.8,80.7 67.2,80.7" fill="url(#g330)"/><polygon points="80.7,67.2 67.2,80.7 67.2,67.2" fill="url(#g331)"/><polygon points="80.7,67.2 67.2,80.7 80.7,80.7" fill="url(#g332)"/><polygon points="94.1,67.2 80.7,80.7 80.7,67.2" fill="url(#g333)"/><polygon points="94.1,67.2 80.7,80.7 94.1,80.7" fill="url(#g334)"/><polygon points="107.6,67.2 94.1,80.7 94.1,67.2" fill="url(#g335)"/><polygon points="107.6,67.2 94.1,80.7 107.6,80.7" fill="url(#g336)"/><polygon points="13.4,80.7 0.0,94.1 0.0,80.7" fill="url(#g337)"/><polygon points="13.4,80.7 0.0,94.1 13.4,94.1" fill="url(#g338)"/><polygon points="26.9,80.7 13.4,94.1 13.4,80.7" fill="url(#g339)"/><polygon points="26.9,80.7 13.4,94.1 26.9,94.1" fill="url(#g340)"/><polygon points="40.3,80.7 26.9,94.1 26.9,80.7" fill="url(#g341)"/><polygon points="40.3,80.7 26.9,94.1 40.3,94.1" fill="url(#g342)"/><polygon points="53.8,80.7 40.3,94.1 40.3,80.7" fill="url(#g343)"/><polygon points="53.8,80.7 40.3,94.1 53.8,94.1" fill="url(#g344)"/><polygon points="67.2,80.7 53.8,94.1 53.8,80.7" fill="url(#g345)"/><polygon points="67.2,80.7 53.8,94.1 67.2,94.1" fill="url(#g346)"/><polygon points="80.7,80.7 67.2,94.1 67.2,80.7" fill="url(#g347)"/><polygon points="80.7,80.7 67.2,94.1 80.7,94.1" fill="url(#g348)"/><polygon points="94.1,80.7 80.7,94.1 80.7,80.7" fill="url(#g349)"/><polygon points="94.1,80.7 80.7,94.1 94.1,94.1" fill="url(#g350)"/><polygon points="107.6,80.7 94.1,94.1 94.1,80.7" fill="url(#g351)"/><polygon points="107.6,80.7 94.1,94.1 107.6,94.1" fill="url(#g352)"/><polygon points="13.4,94.1 0.0,107.6 0.0,94.1" fill="url(#g353)"/><polygon points="13.4,94.1 0.0,107.6 13.4,107.6" fill="url(#g354)"/><polygon points="26.9,94.1 13.4,107.6 13.4,94.1" fill="url(#g355)"/><polygon points="26.9,94.1 13.4,107.6 26.9,107.6" fill="url(#g356)"/><polygon points="40.3,94.1 26.9,107.6 26.9,94.1" fill="url(#g357)"/><polygon points="40.3,94.1 26.9,107.6 40.3,107.6" fill="url(#g358)"/><polygon points="53.8,94.1 40.3,107.6 40.3,94.1" fill="url(#g359)"/><polygon points="53.8,94.1 40.3,107.6 53.8,107.6" fill="url(#g360)"/><polygon points="67.2,94.1 53.8,107.6 53.8,94.1" fill="url(#g361)"/><polygon points="67.2,94.1 53.8,107.6 67.2,107.6" fill="url(#g362)"/><polygon points="80.7,94.1 67.2,107.6 67.2,94.1" fill="url(#g363)"/><polygon points="80.7,94.1 67.2,107.6 80.7,107.6" fill="url(#g364)"/><polygon points="94.1,94.1 80.7,107.6 80.7,94.1" fill="url(#g365)"/><polygon points="94.1,94.1 80.7,107.6 94.1,107.6" fill="url(#g366)"/><polygon points="107.6,94.1 94.1,107.6 94.1,94.1" fill="url(#g367)"/><polygon points="107.6,94.1 94.1,107.6 107.6,107.6" fill="url(#g368)"/></g></defs>
<g shape-rendering="crispEdges"><use href="#qa" transform="translate(250.00,637.30) scale(1,1)"/><use href="#qa" transform="translate(250.00,637.30) scale(1,-1)"/><use href="#qa" transform="translate(250.00,637.30) scale(-1,1)"/><use href="#qa" transform="translate(250.00,637.30) scale(-1,-1)"/><use href="#qb" transform="translate(250.00,852.50) scale(1,1)"/><use href="#qb" transform="translate(250.00,852.50) scale(1,-1)"/><use href="#qb" transform="translate(250.00,852.50) scale(-1,1)"/><use href="#qb" transform="translate(250.00,852.50) scale(-1,-1)"/><use href="#qc" transform="translate(465.20,637.30) scale(1,1)"/><use href="#qc" transform="translate(465.20,637.30) scale(1,-1)"/><use href="#qc" transform="translate(465.20,637.30) scale(-1,1)"/><use href="#qc" transform="translate(465.20,637.30) scale(-1,-1)"/><use href="#qc" transform="translate(465.20,852.50) scale(1,1)"/><use href="#qc" transform="translate(465.20,852.50) scale(1,-1)"/><use href="#qc" transform="translate(465.20,852.50) scale(-1,1)"/><use href="#qc" transform="translate(465.20,852.50) scale(-1,-1)"/></g>
<g><rect x="247.40" y="849.90" width="5.20" height="5.20" fill="none" stroke="#2f3478" stroke-width="1.1" opacity="0.32"/><rect x="244.80" y="847.30" width="10.40" height="10.40" fill="none" stroke="#2f3478" stroke-width="1.1" opacity="0.30"/><rect x="242.20" y="844.70" width="15.60" height="15.60" fill="none" stroke="#2f3478" stroke-width="1.1" opacity="0.27"/><rect x="239.60" y="842.10" width="20.80" height="20.80" fill="none" stroke="#2f3478" stroke-width="1.1" opacity="0.25"/><rect x="237.00" y="839.50" width="26.00" height="26.00" fill="none" stroke="#2f3478" stroke-width="1.1" opacity="0.23"/><rect x="234.40" y="836.90" width="31.20" height="31.20" fill="none" stroke="#2f3478" stroke-width="1.1" opacity="0.21"/><rect x="231.80" y="834.30" width="36.40" height="36.40" fill="none" stroke="#2f3478" stroke-width="1.1" opacity="0.19"/><rect x="229.20" y="831.70" width="41.60" height="41.60" fill="none" stroke="#2f3478" stroke-width="1.1" opacity="0.16"/><rect x="226.60" y="829.10" width="46.80" height="46.80" fill="none" stroke="#2f3478" stroke-width="1.1" opacity="0.14"/><rect x="224.00" y="826.50" width="52.00" height="52.00" fill="none" stroke="#2f3478" stroke-width="1.1" opacity="0.12"/></g>
<line x1="142.40000000000003" y1="744.4" x2="572.8" y2="744.4" stroke="#353b86" stroke-width="1.4" opacity="0.8"/>
<line x1="357.3" y1="529.7" x2="357.3" y2="960.0999999999999" stroke="#353b86" stroke-width="1.3" stroke-dasharray="3.9 1.5" opacity="0.85"/>
<path d="M142.40 906.50H148.80M142.40 852.50H148.80M142.40 798.50H148.80M142.40 691.50H148.80M142.40 637.50H148.80M142.40 583.50H148.80M163.20 933.50H175.80M169.50 927.20V939.80M163.20 879.50H175.80M169.50 873.20V885.80M163.20 825.50H175.80M169.50 819.20V831.80M163.20 771.50H175.80M169.50 765.20V777.80M163.20 718.50H175.80M169.50 712.20V724.80M163.20 664.50H175.80M169.50 658.20V670.80M163.20 610.50H175.80M169.50 604.20V616.80M163.20 556.50H175.80M169.50 550.20V562.80M196.50 954.20V960.10M190.20 906.50H202.80M196.50 900.20V912.80M190.20 852.50H202.80M196.50 846.20V858.80M190.20 798.50H202.80M196.50 792.20V804.80M196.50 738.20V750.80M190.20 691.50H202.80M196.50 685.20V697.80M190.20 637.50H202.80M196.50 631.20V643.80M190.20 583.50H202.80M196.50 577.20V589.80M196.50 529.70V535.80M217.20 933.50H229.80M223.50 927.20V939.80M217.20 879.50H229.80M223.50 873.20V885.80M217.20 825.50H229.80M223.50 819.20V831.80M217.20 771.50H229.80M223.50 765.20V777.80M217.20 718.50H229.80M223.50 712.20V724.80M217.20 664.50H229.80M223.50 658.20V670.80M217.20 610.50H229.80M223.50 604.20V616.80M217.20 556.50H229.80M223.50 550.20V562.80M250.50 954.20V960.10M244.20 906.50H256.80M250.50 900.20V912.80M244.20 852.50H256.80M250.50 846.20V858.80M244.20 798.50H256.80M250.50 792.20V804.80M250.50 738.20V750.80M244.20 691.50H256.80M250.50 685.20V697.80M244.20 637.50H256.80M250.50 631.20V643.80M244.20 583.50H256.80M250.50 577.20V589.80M250.50 529.70V535.80M270.20 933.50H282.80M276.50 927.20V939.80M270.20 879.50H282.80M276.50 873.20V885.80M270.20 825.50H282.80M276.50 819.20V831.80M270.20 771.50H282.80M276.50 765.20V777.80M270.20 718.50H282.80M276.50 712.20V724.80M270.20 664.50H282.80M276.50 658.20V670.80M270.20 610.50H282.80M276.50 604.20V616.80M270.20 556.50H282.80M276.50 550.20V562.80M303.50 954.20V960.10M297.20 906.50H309.80M303.50 900.20V912.80M297.20 852.50H309.80M303.50 846.20V858.80M297.20 798.50H309.80M303.50 792.20V804.80M303.50 738.20V750.80M297.20 691.50H309.80M303.50 685.20V697.80M297.20 637.50H309.80M303.50 631.20V643.80M297.20 583.50H309.80M303.50 577.20V589.80M303.50 529.70V535.80M324.20 933.50H336.80M330.50 927.20V939.80M324.20 879.50H336.80M330.50 873.20V885.80M324.20 825.50H336.80M330.50 819.20V831.80M324.20 771.50H336.80M330.50 765.20V777.80M324.20 718.50H336.80M330.50 712.20V724.80M324.20 664.50H336.80M330.50 658.20V670.80M324.20 610.50H336.80M330.50 604.20V616.80M324.20 556.50H336.80M330.50 550.20V562.80M351.20 906.50H363.80M351.20 852.50H363.80M351.20 798.50H363.80M351.20 691.50H363.80M351.20 637.50H363.80M351.20 583.50H363.80M411.50 954.20V960.10M405.20 906.50H417.80M411.50 900.20V912.80M405.20 852.50H417.80M411.50 846.20V858.80M405.20 798.50H417.80M411.50 792.20V804.80M411.50 738.20V750.80M405.20 691.50H417.80M411.50 685.20V697.80M405.20 637.50H417.80M411.50 631.20V643.80M405.20 583.50H417.80M411.50 577.20V589.80M411.50 529.70V535.80M465.50 954.20V960.10M459.20 906.50H471.80M465.50 900.20V912.80M459.20 852.50H471.80M465.50 846.20V858.80M459.20 798.50H471.80M465.50 792.20V804.80M465.50 738.20V750.80M459.20 691.50H471.80M465.50 685.20V697.80M459.20 637.50H471.80M465.50 631.20V643.80M459.20 583.50H471.80M465.50 577.20V589.80M465.50 529.70V535.80M519.50 954.20V960.10M513.20 906.50H525.80M519.50 900.20V912.80M513.20 852.50H525.80M519.50 846.20V858.80M513.20 798.50H525.80M519.50 792.20V804.80M519.50 738.20V750.80M513.20 691.50H525.80M519.50 685.20V697.80M513.20 637.50H525.80M519.50 631.20V643.80M513.20 583.50H525.80M519.50 577.20V589.80M519.50 529.70V535.80M566.20 906.50H572.80M566.20 852.50H572.80M566.20 798.50H572.80M566.20 691.50H572.80M566.20 637.50H572.80M566.20 583.50H572.80" stroke="#2e2e38" stroke-width="1" fill="none" opacity="0.52"/>
<rect x="142.40000000000003" y="529.7" width="430.3999999999999" height="430.39999999999986" fill="none" stroke="#111" stroke-width="1.2"/>
<line x1="142.40" y1="960.0999999999999" x2="142.40" y2="968.0999999999999" stroke="#111" stroke-width="1.1"/>
<line x1="134.40000000000003" y1="960.10" x2="142.40000000000003" y2="960.10" stroke="#111" stroke-width="1.1"/>
<text x="141.00" y="993.00" font-size="20.6" text-anchor="middle" fill="#1c1c1c" textLength="35.70" lengthAdjust="spacingAndGlyphs" >−8π</text>
<text x="125.20" y="967.70" font-size="20.6" text-anchor="end" fill="#1c1c1c" textLength="35.70" lengthAdjust="spacingAndGlyphs" >−8π</text>
<line x1="250.00" y1="960.0999999999999" x2="250.00" y2="968.0999999999999" stroke="#111" stroke-width="1.1"/>
<line x1="134.40000000000003" y1="852.50" x2="142.40000000000003" y2="852.50" stroke="#111" stroke-width="1.1"/>
<text x="248.60" y="993.00" font-size="20.6" text-anchor="middle" fill="#1c1c1c" textLength="35.70" lengthAdjust="spacingAndGlyphs" >−4π</text>
<text x="125.20" y="860.10" font-size="20.6" text-anchor="end" fill="#1c1c1c" textLength="35.70" lengthAdjust="spacingAndGlyphs" >−4π</text>
<line x1="357.60" y1="960.0999999999999" x2="357.60" y2="968.0999999999999" stroke="#111" stroke-width="1.1"/>
<line x1="134.40000000000003" y1="744.90" x2="142.40000000000003" y2="744.90" stroke="#111" stroke-width="1.1"/>
<text x="358.10" y="993.00" font-size="22.3" text-anchor="middle" fill="#1c1c1c" textLength="14.60" lengthAdjust="spacingAndGlyphs" >0</text>
<text x="125.20" y="753.10" font-size="22.3" text-anchor="end" fill="#1c1c1c" textLength="14.60" lengthAdjust="spacingAndGlyphs" >0</text>
<line x1="465.20" y1="960.0999999999999" x2="465.20" y2="968.0999999999999" stroke="#111" stroke-width="1.1"/>
<line x1="134.40000000000003" y1="637.30" x2="142.40000000000003" y2="637.30" stroke="#111" stroke-width="1.1"/>
<text x="465.20" y="993.00" font-size="20.6" text-anchor="middle" fill="#1c1c1c" textLength="25.00" lengthAdjust="spacingAndGlyphs" >4π</text>
<text x="125.20" y="644.90" font-size="20.6" text-anchor="end" fill="#1c1c1c" textLength="25.00" lengthAdjust="spacingAndGlyphs" >4π</text>
<line x1="572.80" y1="960.0999999999999" x2="572.80" y2="968.0999999999999" stroke="#111" stroke-width="1.1"/>
<line x1="134.40000000000003" y1="529.70" x2="142.40000000000003" y2="529.70" stroke="#111" stroke-width="1.1"/>
<text x="572.80" y="993.00" font-size="20.6" text-anchor="middle" fill="#1c1c1c" textLength="25.00" lengthAdjust="spacingAndGlyphs" >8π</text>
<text x="125.20" y="537.30" font-size="20.6" text-anchor="end" fill="#1c1c1c" textLength="25.00" lengthAdjust="spacingAndGlyphs" >8π</text>
<text x="222.80" y="507.40" font-size="24.5" text-anchor="start" fill="#1c1c1c" textLength="56.10" lengthAdjust="spacingAndGlyphs" >(<tspan font-style="italic">hhk</tspan>)</text>
<text x="438.20" y="507.40" font-size="24.5" text-anchor="start" fill="#1c1c1c" textLength="58.00" lengthAdjust="spacingAndGlyphs" >(<tspan font-style="italic">hk</tspan>0)</text>
<text x="225.80" y="557.70" font-size="21" text-anchor="start" fill="#000" textLength="55.70" lengthAdjust="spacingAndGlyphs" >1 hole</text>
<text x="441.00" y="557.70" font-size="21" text-anchor="start" fill="#000" textLength="55.70" lengthAdjust="spacingAndGlyphs" >1 hole</text>
<text x="220.10" y="773.20" font-size="21" text-anchor="start" fill="#000" textLength="69.20" lengthAdjust="spacingAndGlyphs" >2 holes</text>
<text x="435.80" y="773.20" font-size="21" text-anchor="start" fill="#000" textLength="69.20" lengthAdjust="spacingAndGlyphs" >2 holes</text>
<text x="358.20" y="1029.60" font-size="25" text-anchor="middle" fill="#1c1c1c" font-style="italic" >h</text>
<g transform="translate(89.2,745.8) rotate(-90)">
<text x="0.00" y="0.00" font-size="25" text-anchor="middle" fill="#1c1c1c" font-style="italic" >k</text>
</g>
<defs><linearGradient id="cb" x1="0" y1="0" x2="0" y2="1"><stop offset="0" stop-color="#fcfcfe"/><stop offset="1" stop-color="#2f3478"/></linearGradient></defs>
<rect x="592.3" y="529.7" width="17.700000000000045" height="430.39999999999986" fill="url(#cb)" stroke="#222" stroke-width="1.1"/>
<line x1="610.0" y1="960.40" x2="619.3" y2="960.40" stroke="#222" stroke-width="1.1"/>
<text x="628.00" y="967.70" font-size="21.5" text-anchor="start" fill="#1c1c1c" textLength="14.00" lengthAdjust="spacingAndGlyphs" >0</text>
<line x1="610.0" y1="916.80" x2="619.3" y2="916.80" stroke="#222" stroke-width="1.1"/>
<text x="628.00" y="924.10" font-size="21.5" text-anchor="start" fill="#1c1c1c" textLength="55.20" lengthAdjust="spacingAndGlyphs" >0.038</text>
<line x1="610.0" y1="873.20" x2="619.3" y2="873.20" stroke="#222" stroke-width="1.1"/>
<text x="628.00" y="880.50" font-size="21.5" text-anchor="start" fill="#1c1c1c" textLength="53.70" lengthAdjust="spacingAndGlyphs" >0.076</text>
<line x1="610.0" y1="829.60" x2="619.3" y2="829.60" stroke="#222" stroke-width="1.1"/>
<text x="628.00" y="836.90" font-size="21.5" text-anchor="start" fill="#1c1c1c" textLength="44.70" lengthAdjust="spacingAndGlyphs" >0.114</text>
<line x1="610.0" y1="786.00" x2="619.3" y2="786.00" stroke="#222" stroke-width="1.1"/>
<text x="628.00" y="793.30" font-size="21.5" text-anchor="start" fill="#1c1c1c" textLength="48.50" lengthAdjust="spacingAndGlyphs" >0.152</text>
<line x1="610.0" y1="742.40" x2="619.3" y2="742.40" stroke="#222" stroke-width="1.1"/>
<text x="628.00" y="749.70" font-size="21.5" text-anchor="start" fill="#1c1c1c" textLength="50.30" lengthAdjust="spacingAndGlyphs" >0.190</text>
<line x1="610.0" y1="698.80" x2="619.3" y2="698.80" stroke="#222" stroke-width="1.1"/>
<text x="628.00" y="706.10" font-size="21.5" text-anchor="start" fill="#1c1c1c" textLength="51.40" lengthAdjust="spacingAndGlyphs" >0.228</text>
<line x1="610.0" y1="655.20" x2="619.3" y2="655.20" stroke="#222" stroke-width="1.1"/>
<text x="628.00" y="662.50" font-size="21.5" text-anchor="start" fill="#1c1c1c" textLength="51.40" lengthAdjust="spacingAndGlyphs" >0.266</text>
<line x1="610.0" y1="611.60" x2="619.3" y2="611.60" stroke="#222" stroke-width="1.1"/>
<text x="628.00" y="618.90" font-size="21.5" text-anchor="start" fill="#1c1c1c" textLength="58.00" lengthAdjust="spacingAndGlyphs" >0.304</text>
<line x1="610.0" y1="568.00" x2="619.3" y2="568.00" stroke="#222" stroke-width="1.1"/>
<text x="628.00" y="575.30" font-size="21.5" text-anchor="start" fill="#1c1c1c" textLength="51.40" lengthAdjust="spacingAndGlyphs" >0.342</text></svg></body></html>
